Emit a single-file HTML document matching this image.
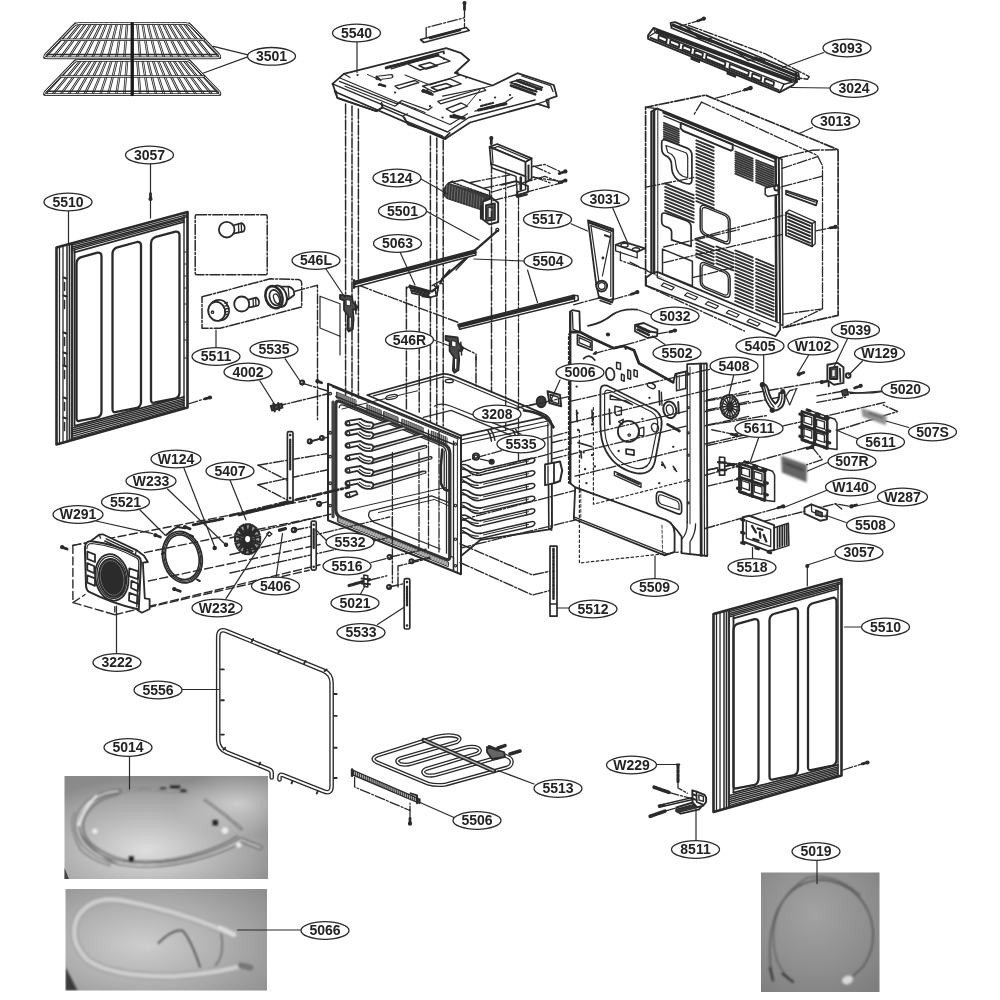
<!DOCTYPE html>
<html lang="en"><head><meta charset="utf-8"><title>Oven cavity exploded parts diagram</title>
<style>
html,body{margin:0;padding:0;background:#fff;}
body{width:1000px;height:1000px;overflow:hidden;font-family:"Liberation Sans",Arial,sans-serif;}
svg{display:block;filter:blur(0.45px);}
</style></head><body>
<svg width="1000" height="1000" viewBox="0 0 1000 1000" stroke-linecap="round" stroke-linejoin="round">
<rect width="1000" height="1000" fill="#fff"/>
<!-- photo insets -->
<defs>
<radialGradient id="ph1" cx="0.40" cy="0.72" r="0.70"><stop offset="0" stop-color="#dedede"/><stop offset="0.35" stop-color="#c2c2c2"/><stop offset="0.75" stop-color="#a4a4a4"/><stop offset="1" stop-color="#8a8a8a"/></radialGradient>
<radialGradient id="ph1b" cx="0.85" cy="0.27" r="0.32"><stop offset="0" stop-color="#cfcfcf" stop-opacity="0.95"/><stop offset="1" stop-color="#cfcfcf" stop-opacity="0"/></radialGradient>
<radialGradient id="ph2" cx="0.38" cy="0.55" r="0.8"><stop offset="0" stop-color="#cdcdcd"/><stop offset="0.45" stop-color="#b2b2b2"/><stop offset="1" stop-color="#8e8e8e"/></radialGradient>
<radialGradient id="ph3" cx="0.45" cy="0.35" r="0.8"><stop offset="0" stop-color="#a2a2a2"/><stop offset="0.6" stop-color="#8e8e8e"/><stop offset="1" stop-color="#7e7e7e"/></radialGradient>
<filter id="b1" x="-20%" y="-20%" width="140%" height="140%"><feGaussianBlur stdDeviation="0.8"/></filter>
<filter id="b2" x="-20%" y="-20%" width="140%" height="140%"><feGaussianBlur stdDeviation="1.3"/></filter>
<clipPath id="c1"><rect x="64.5" y="776" width="203.5" height="103"/></clipPath>
<clipPath id="c2"><rect x="65.5" y="889" width="201.5" height="101.5"/></clipPath>
<clipPath id="c3"><rect x="761" y="872.5" width="118.5" height="119.5"/></clipPath>
</defs>
<rect x="64.5" y="776" width="203.5" height="103" fill="url(#ph1)"/>
<rect x="64.5" y="776" width="203.5" height="103" fill="url(#ph1b)"/>
<g clip-path="url(#c1)" filter="url(#b1)" fill="none">
<path d="M120 791.2Q95 792.5 82.5 808.8Q71.2 825 83.8 843.8Q97.5 858.8 120 863Q160 870 207.5 855Q230 847.5 241.2 840L260 847.5" fill="none" stroke="#5e5e5e" stroke-width="4.6"/>
<path d="M120 791.2Q95 792.5 82.5 808.8Q71.2 825 83.8 843.8Q97.5 858.8 120 863Q160 870 207.5 855Q230 847.5 241.2 840L260 847.5" fill="none" stroke="#d9d9d9" stroke-width="1.8"/>
<path d="M117.5 795Q98.8 797.5 87.5 812.5Q77.5 827.5 90 842.5Q105 856.2 125 860Q162.5 865.5 205 851.2Q225 844.5 237.5 836.2" fill="none" stroke="#7a7a7a" stroke-width="2"/>
<path d="M75 812.5Q67.5 825 80 848.8Q90 860 110 865.5" fill="none" stroke="#8a8a8a" stroke-width="2"/>
<path d="M120 791.2Q140 787.5 160 790L186.2 791.2M205 800L225 815L241.2 828.8" fill="none" stroke="#555" stroke-width="2.6"/>
<path d="M120 791.2Q140 787.5 160 790L186.2 791.2M205 800L225 815L241.2 828.8" fill="none" stroke="#cfcfcf" stroke-width="1"/>
<path d="M96.2 796.2Q82.5 810 78.8 825" fill="none" stroke="#e8e8e8" stroke-width="2.6"/>
<path d="M80 832.5Q95 855 117.5 863.8" fill="none" stroke="#777" stroke-width="1.8"/>
<rect x="170" y="785.5" width="10" height="3" fill="#222"/>
<rect x="180" y="789.5" width="6.2" height="2.5" fill="#222"/>
<rect x="212.5" y="820" width="5.5" height="5.5" fill="#222"/>
<rect x="128.8" y="856.2" width="5" height="5.5" fill="#222"/>
<rect x="160" y="787.5" width="6.2" height="2" fill="#222"/>
<circle cx="225" cy="830.5" r="3.2" fill="#ececec"/>
<circle cx="238.8" cy="845" r="2.6" fill="#ececec"/>
<circle cx="95" cy="831.2" r="2.6" fill="#ececec"/>
</g>
<path d="M64.5 868 L64.5 879 L69 879Z" fill="#444" stroke="none" stroke-width="0"/>
<rect x="65.5" y="889" width="201.5" height="101.5" fill="url(#ph2)"/>
<g clip-path="url(#c2)" filter="url(#b1)" fill="none">
<path d="M220 928.8Q175 910 120 900Q90 896.2 77.5 917.5Q67.5 940 87.5 960Q112.5 977.5 175 976.2Q212.5 973.8 241.2 966.2" fill="none" stroke="#9c9c9c" stroke-width="7.7"/>
<path d="M220 928.8Q175 910 120 900Q90 896.2 77.5 917.5Q67.5 940 87.5 960Q112.5 977.5 175 976.2Q212.5 973.8 241.2 966.2" fill="none" stroke="#c4c4c4" stroke-width="5.4"/>
<path d="M220 928.8Q175 910 120 900Q90 896.2 77.5 917.5Q67.5 940 87.5 960Q112.5 977.5 175 976.2Q212.5 973.8 241.2 966.2" fill="none" stroke="#d0d0d0" stroke-width="2.3"/>
<path d="M157.5 943.8Q172.5 928.8 182.5 930.5Q191.2 940 200 967" fill="none" stroke="#4a4a4a" stroke-width="1.7"/>
<path d="M221.2 933.8Q225 955 215.5 965.5" fill="none" stroke="#6a6a6a" stroke-width="1.5"/>
<path d="M146.2 948.8L157 944.2" fill="none" stroke="#d0d0d0" stroke-width="2"/>
<path d="M220 928L233.8 934.5" fill="none" stroke="#dcdcdc" stroke-width="5.1"/>
<path d="M241.2 965.5L250 967.5" fill="none" stroke="#777" stroke-width="6.4"/>
<path d="M65.5 967L65.5 990.5L77.5 990.5Z" fill="#3a3a3a" stroke="none" stroke-width="0"/>
</g>
<rect x="761" y="872.5" width="118.5" height="119.5" fill="url(#ph3)"/>
<g clip-path="url(#c3)" filter="url(#b1)" fill="none">
<path d="M772.5 980Q765 940 777.5 910Q792.5 880 822.5 880Q855 882.5 868.8 912.5Q880 942.5 862.5 967.5L852.5 976.2" fill="none" stroke="#4e4e4e" stroke-width="1.3"/>
<path d="M792.5 981.2Q771.2 965 773.8 930Q777.5 895 807.5 877.5Q835 872.5 860 895" fill="none" stroke="#5a5a5a" stroke-width="1.2"/>
<path d="M770 968L773 980.5M782.5 973.8L793 982" fill="none" stroke="#2e2e2e" stroke-width="2"/>
<ellipse cx="847.5" cy="980" rx="5.6" ry="4.2" fill="#d8d8d8" transform="rotate(-20 847.5 980)"/>
</g>
<!-- oven racks 3501 -->
<path d="M75.5 23.6L44.5 57.8M80.7 23.6L52.5 57.8M85.8 23.6L60.5 57.8M91 23.6L68.4 57.8M96.1 23.6L76.4 57.8M101.3 23.6L84.4 57.8M106.5 23.6L92.4 57.8M111.6 23.6L100.3 57.8M116.8 23.6L108.3 57.8M121.9 23.6L116.3 57.8M127.1 23.6L124.3 57.8M132.2 23.6L132.2 57.8M137.4 23.6L140.2 57.8M142.6 23.6L148.2 57.8M147.7 23.6L156.2 57.8M152.9 23.6L164.2 57.8M158 23.6L172.1 57.8M163.2 23.6L180.1 57.8M168.4 23.6L188.1 57.8M173.5 23.6L196.1 57.8M178.7 23.6L204 57.8M183.8 23.6L212 57.8M189 23.6L220 57.8" fill="none" stroke="#1e1e1e" stroke-width="2.4"/>
<path d="M75.5 23.6L44.5 57.8M80.7 23.6L52.5 57.8M85.8 23.6L60.5 57.8M91 23.6L68.4 57.8M96.1 23.6L76.4 57.8M101.3 23.6L84.4 57.8M106.5 23.6L92.4 57.8M111.6 23.6L100.3 57.8M116.8 23.6L108.3 57.8M121.9 23.6L116.3 57.8M127.1 23.6L124.3 57.8M132.2 23.6L132.2 57.8M137.4 23.6L140.2 57.8M142.6 23.6L148.2 57.8M147.7 23.6L156.2 57.8M152.9 23.6L164.2 57.8M158 23.6L172.1 57.8M163.2 23.6L180.1 57.8M168.4 23.6L188.1 57.8M173.5 23.6L196.1 57.8M178.7 23.6L204 57.8M183.8 23.6L212 57.8M189 23.6L220 57.8" fill="none" stroke="#fff" stroke-width="0.8"/>
<path d="M78.5 23.6L186 23.6Q189 23.6 191 25.8L219 54.8Q221.5 57.8 217 57.8L47.5 57.8Q43 57.8 45.5 54.8L73.5 25.8Q75.5 23.6 78.5 23.6Z" fill="none" stroke="#2a2a2a" stroke-width="2.8"/>
<path d="M78.5 23.6L186 23.6Q189 23.6 191 25.8L219 54.8Q221.5 57.8 217 57.8L47.5 57.8Q43 57.8 45.5 54.8L73.5 25.8Q75.5 23.6 78.5 23.6Z" fill="none" stroke="#fff" stroke-width="1"/>
<line x1="60.9" y1="39.7" x2="203.6" y2="39.7" stroke="#2a2a2a" stroke-width="2.6"/>
<line x1="60.9" y1="39.7" x2="203.6" y2="39.7" stroke="#fff" stroke-width="0.8"/>
<line x1="47.6" y1="54.4" x2="216.9" y2="54.4" stroke="#2a2a2a" stroke-width="1.5"/>
<line x1="132.2" y1="23.6" x2="132.2" y2="57.8" stroke="#1a1a1a" stroke-width="3.3"/>
<path d="M75.5 60.4L44.5 94.6M80.7 60.4L52.5 94.6M85.8 60.4L60.5 94.6M91 60.4L68.4 94.6M96.1 60.4L76.4 94.6M101.3 60.4L84.4 94.6M106.5 60.4L92.4 94.6M111.6 60.4L100.3 94.6M116.8 60.4L108.3 94.6M121.9 60.4L116.3 94.6M127.1 60.4L124.3 94.6M132.2 60.4L132.2 94.6M137.4 60.4L140.2 94.6M142.6 60.4L148.2 94.6M147.7 60.4L156.2 94.6M152.9 60.4L164.2 94.6M158 60.4L172.1 94.6M163.2 60.4L180.1 94.6M168.4 60.4L188.1 94.6M173.5 60.4L196.1 94.6M178.7 60.4L204 94.6M183.8 60.4L212 94.6M189 60.4L220 94.6" fill="none" stroke="#1e1e1e" stroke-width="2.4"/>
<path d="M75.5 60.4L44.5 94.6M80.7 60.4L52.5 94.6M85.8 60.4L60.5 94.6M91 60.4L68.4 94.6M96.1 60.4L76.4 94.6M101.3 60.4L84.4 94.6M106.5 60.4L92.4 94.6M111.6 60.4L100.3 94.6M116.8 60.4L108.3 94.6M121.9 60.4L116.3 94.6M127.1 60.4L124.3 94.6M132.2 60.4L132.2 94.6M137.4 60.4L140.2 94.6M142.6 60.4L148.2 94.6M147.7 60.4L156.2 94.6M152.9 60.4L164.2 94.6M158 60.4L172.1 94.6M163.2 60.4L180.1 94.6M168.4 60.4L188.1 94.6M173.5 60.4L196.1 94.6M178.7 60.4L204 94.6M183.8 60.4L212 94.6M189 60.4L220 94.6" fill="none" stroke="#fff" stroke-width="0.8"/>
<path d="M78.5 60.4L186 60.4Q189 60.4 191 62.6L219 91.6Q221.5 94.6 217 94.6L47.5 94.6Q43 94.6 45.5 91.6L73.5 62.6Q75.5 60.4 78.5 60.4Z" fill="none" stroke="#2a2a2a" stroke-width="2.8"/>
<path d="M78.5 60.4L186 60.4Q189 60.4 191 62.6L219 91.6Q221.5 94.6 217 94.6L47.5 94.6Q43 94.6 45.5 91.6L73.5 62.6Q75.5 60.4 78.5 60.4Z" fill="none" stroke="#fff" stroke-width="1"/>
<line x1="60.9" y1="76.5" x2="203.6" y2="76.5" stroke="#2a2a2a" stroke-width="2.6"/>
<line x1="60.9" y1="76.5" x2="203.6" y2="76.5" stroke="#fff" stroke-width="0.8"/>
<line x1="47.6" y1="91.2" x2="216.9" y2="91.2" stroke="#2a2a2a" stroke-width="1.5"/>
<line x1="132.2" y1="60.4" x2="132.2" y2="94.6" stroke="#1a1a1a" stroke-width="3.3"/>
<!-- side panels 5510 -->
<path d="M56.5 247.5 L187.5 212 L187.5 407.5 L56.5 444.5Z" fill="#fff" stroke="#2a2a2a" stroke-width="2.6"/>
<line x1="59.5" y1="247.7" x2="59.5" y2="442.7" stroke="#2a2a2a" stroke-width="1.3"/>
<line x1="63" y1="246.7" x2="63" y2="441.7" stroke="#2a2a2a" stroke-width="1.3"/>
<line x1="67" y1="245.7" x2="67" y2="440.5" stroke="#2a2a2a" stroke-width="1.5"/>
<line x1="69.5" y1="245" x2="69.5" y2="439.8" stroke="#2a2a2a" stroke-width="1.7"/>
<line x1="72" y1="244.3" x2="72" y2="439.1" stroke="#2a2a2a" stroke-width="1.9"/>
<line x1="74.5" y1="250.6" x2="74.5" y2="425.4" stroke="#2a2a2a" stroke-width="1.9"/>
<line x1="63.5" y1="277.5" x2="66.5" y2="278.5" stroke="#2a2a2a" stroke-width="2"/>
<line x1="64.5" y1="282.5" x2="64.5" y2="290.5" stroke="#2a2a2a" stroke-width="1.5"/>
<line x1="63.5" y1="295.5" x2="66.5" y2="296.5" stroke="#2a2a2a" stroke-width="2"/>
<line x1="64.5" y1="300.5" x2="64.5" y2="308.5" stroke="#2a2a2a" stroke-width="1.5"/>
<line x1="63.5" y1="332.5" x2="66.5" y2="333.5" stroke="#2a2a2a" stroke-width="2"/>
<line x1="64.5" y1="337.5" x2="64.5" y2="345.5" stroke="#2a2a2a" stroke-width="1.5"/>
<line x1="63.5" y1="352.5" x2="66.5" y2="353.5" stroke="#2a2a2a" stroke-width="2"/>
<line x1="64.5" y1="357.5" x2="64.5" y2="365.5" stroke="#2a2a2a" stroke-width="1.5"/>
<line x1="63.5" y1="365.5" x2="66.5" y2="366.5" stroke="#2a2a2a" stroke-width="2"/>
<line x1="64.5" y1="370.5" x2="64.5" y2="378.5" stroke="#2a2a2a" stroke-width="1.5"/>
<line x1="63.5" y1="397.5" x2="66.5" y2="398.5" stroke="#2a2a2a" stroke-width="2"/>
<line x1="64.5" y1="402.5" x2="64.5" y2="410.5" stroke="#2a2a2a" stroke-width="1.5"/>
<line x1="63.5" y1="417.5" x2="66.5" y2="418.5" stroke="#2a2a2a" stroke-width="2"/>
<line x1="64.5" y1="422.5" x2="64.5" y2="430.5" stroke="#2a2a2a" stroke-width="1.5"/>
<line x1="71.5" y1="245.4" x2="186.5" y2="214.9" stroke="#2a2a2a" stroke-width="1.4"/>
<line x1="71.5" y1="247.2" x2="186.5" y2="216.7" stroke="#2a2a2a" stroke-width="1.4"/>
<line x1="71.5" y1="249" x2="184" y2="218.5" stroke="#2a2a2a" stroke-width="1.4"/>
<line x1="71.5" y1="250.6" x2="184" y2="220.1" stroke="#2a2a2a" stroke-width="1.4"/>
<line x1="74.5" y1="252.4" x2="184" y2="221.9" stroke="#2a2a2a" stroke-width="1.8"/>
<line x1="71.5" y1="438.3" x2="184" y2="406.9" stroke="#2a2a2a" stroke-width="1.4"/>
<line x1="71.5" y1="436.3" x2="184" y2="405.3" stroke="#2a2a2a" stroke-width="1.4"/>
<line x1="71.5" y1="434.3" x2="184" y2="403.7" stroke="#2a2a2a" stroke-width="1.4"/>
<line x1="71.5" y1="432.3" x2="184" y2="402.1" stroke="#2a2a2a" stroke-width="1.4"/>
<line x1="71.5" y1="430.3" x2="184" y2="400.5" stroke="#2a2a2a" stroke-width="1.4"/>
<line x1="71.5" y1="428.3" x2="184" y2="398.9" stroke="#2a2a2a" stroke-width="1.4"/>
<line x1="74.5" y1="425.8" x2="184" y2="396.9" stroke="#2a2a2a" stroke-width="1.8"/>
<line x1="184" y1="214.9" x2="184" y2="407.5" stroke="#2a2a2a" stroke-width="1.4"/>
<line x1="184.3" y1="252" x2="186.4" y2="252" stroke="#2a2a2a" stroke-width="1.2"/>
<line x1="184.3" y1="264" x2="186.4" y2="264" stroke="#2a2a2a" stroke-width="1.2"/>
<line x1="184.3" y1="276" x2="186.4" y2="276" stroke="#2a2a2a" stroke-width="1.2"/>
<line x1="184.3" y1="288" x2="186.4" y2="288" stroke="#2a2a2a" stroke-width="1.2"/>
<line x1="184.3" y1="304" x2="186.4" y2="304" stroke="#2a2a2a" stroke-width="1.2"/>
<line x1="184.3" y1="322" x2="186.4" y2="322" stroke="#2a2a2a" stroke-width="1.2"/>
<line x1="184.3" y1="340" x2="186.4" y2="340" stroke="#2a2a2a" stroke-width="1.2"/>
<line x1="184.3" y1="358" x2="186.4" y2="358" stroke="#2a2a2a" stroke-width="1.2"/>
<path d="M76.5 264.1Q76.5 259.1 80.5 257.4L97.5 252.7Q101.5 252.3 101.5 256.3L101.5 411Q101.5 416 97.5 417.4L80.5 420.7Q76.5 422.1 76.5 418.1Z" fill="none" stroke="#2a2a2a" stroke-width="2.3"/>
<path d="M112.5 254.3Q112.5 249.3 116.5 247.6L137 242Q141 241.6 141 245.6L141 401.4Q141 406.4 137 407.8L116.5 411.9Q112.5 413.3 112.5 409.3Z" fill="none" stroke="#2a2a2a" stroke-width="2.3"/>
<path d="M151 243.9Q151 238.9 155 237.2L175.5 231.6Q179.5 231.2 179.5 235.2L179.5 392Q179.5 397 175.5 398.4L155 402.5Q151 403.9 151 399.9Z" fill="none" stroke="#2a2a2a" stroke-width="2.3"/>
<path d="M713.5 614 L841.5 579 L841.5 775.5 L713.5 812Z" fill="#fff" stroke="#2a2a2a" stroke-width="2.6"/>
<line x1="716.5" y1="614.2" x2="716.5" y2="810.1" stroke="#2a2a2a" stroke-width="1.3"/>
<line x1="720" y1="613.2" x2="720" y2="809.1" stroke="#2a2a2a" stroke-width="1.3"/>
<line x1="724" y1="612.1" x2="724" y2="808" stroke="#2a2a2a" stroke-width="1.5"/>
<line x1="726.5" y1="611.4" x2="726.5" y2="807.3" stroke="#2a2a2a" stroke-width="1.7"/>
<line x1="729" y1="610.8" x2="729" y2="806.6" stroke="#2a2a2a" stroke-width="1.9"/>
<line x1="733.5" y1="616.5" x2="733.5" y2="792.3" stroke="#2a2a2a" stroke-width="1.9"/>
<line x1="730.5" y1="611.4" x2="840.5" y2="582" stroke="#2a2a2a" stroke-width="1.4"/>
<line x1="730.5" y1="613.2" x2="840.5" y2="583.8" stroke="#2a2a2a" stroke-width="1.4"/>
<line x1="730.5" y1="615" x2="838" y2="585.6" stroke="#2a2a2a" stroke-width="1.4"/>
<line x1="730.5" y1="616.6" x2="838" y2="587.2" stroke="#2a2a2a" stroke-width="1.4"/>
<line x1="733.5" y1="618.4" x2="838" y2="589" stroke="#2a2a2a" stroke-width="1.8"/>
<line x1="730.5" y1="805.2" x2="838" y2="774.9" stroke="#2a2a2a" stroke-width="1.4"/>
<line x1="730.5" y1="803.2" x2="838" y2="773.3" stroke="#2a2a2a" stroke-width="1.4"/>
<line x1="730.5" y1="801.2" x2="838" y2="771.7" stroke="#2a2a2a" stroke-width="1.4"/>
<line x1="730.5" y1="799.2" x2="838" y2="770.1" stroke="#2a2a2a" stroke-width="1.4"/>
<line x1="730.5" y1="797.2" x2="838" y2="768.5" stroke="#2a2a2a" stroke-width="1.4"/>
<line x1="730.5" y1="795.2" x2="838" y2="766.9" stroke="#2a2a2a" stroke-width="1.4"/>
<line x1="733.5" y1="792.7" x2="838" y2="764.9" stroke="#2a2a2a" stroke-width="1.8"/>
<line x1="838" y1="582" x2="838" y2="775.5" stroke="#2a2a2a" stroke-width="1.4"/>
<path d="M733.5 630.5Q733.5 625.5 737.5 623.8L754.5 619.1Q758.5 618.7 758.5 622.7L758.5 778.4Q758.5 783.4 754.5 784.9L737.5 788.1Q733.5 789.6 733.5 785.6Z" fill="none" stroke="#2a2a2a" stroke-width="2.3"/>
<path d="M769.5 620.7Q769.5 615.7 773.5 614L794 608.3Q798 607.9 798 611.9L798 768.7Q798 773.7 794 775.1L773.5 779.3Q769.5 780.7 769.5 776.7Z" fill="none" stroke="#2a2a2a" stroke-width="2.3"/>
<path d="M808 610.2Q808 605.2 812 603.5L832.5 597.8Q836.5 597.4 836.5 601.4L836.5 759.2Q836.5 764.2 832.5 765.7L812 769.8Q808 771.2 808 767.2Z" fill="none" stroke="#2a2a2a" stroke-width="2.3"/>
<!-- rear cover 3013 with phantom box -->
<path d="M645.6 285.5 L645.6 107.3 L705.4 95.1 L838.1 149.7 L838.1 315.4 L783.4 327.6" fill="none" stroke="#2a2a2a" stroke-width="1.7" stroke-dasharray="10 2 2 2"/>
<path d="M645.6 107.3 L657.3 108.6" fill="none" stroke="#2a2a2a" stroke-width="1.4" stroke-dasharray="10 2 2 2"/>
<path d="M778.2 158 L812.1 150.2 L838.1 149.7" fill="none" stroke="#2a2a2a" stroke-width="1.4" stroke-dasharray="10 2 2 2"/>
<path d="M701.5 102.1 L693.7 115.1" fill="none" stroke="#2a2a2a" stroke-width="1.3" stroke-dasharray="10 2 2 2"/>
<path d="M701.5 102.1 L817.3 155.4 L822.5 165.8 L822.5 308.9 L783.4 327.6" fill="none" stroke="#2a2a2a" stroke-width="1.3" stroke-dasharray="10 2 2 2"/>
<path d="M782.1 168.4 L817.3 156.7" fill="none" stroke="#2a2a2a" stroke-width="1.3" stroke-dasharray="10 2 2 2"/>
<path d="M782.1 186.6 L822.5 176.2" fill="none" stroke="#2a2a2a" stroke-width="1.3" stroke-dasharray="10 2 2 2"/>
<path d="M645.6 285.5 L744.4 331" fill="none" stroke="#2a2a2a" stroke-width="1.4" stroke-dasharray="10 2 2 2"/>
<path d="M783.4 314.1 L822.5 308.9" fill="none" stroke="#2a2a2a" stroke-width="1.3" stroke-dasharray="10 2 2 2"/>
<path d="M630 262.1 L741.8 319.3" fill="none" stroke="#2a2a2a" stroke-width="1.3" stroke-dasharray="10 2 2 2"/>
<path d="M657.3 108.6 L778.8 158 L780.1 324 L657.3 271.9Z" fill="#fff" stroke="#2a2a2a" stroke-width="2"/>
<path d="M657.3 108.6 L651.3 111.7 L651.3 273.8 L657.3 271.9" fill="#fff" stroke="#2a2a2a" stroke-width="2"/>
<path d="M653.9 110.7 L653.9 273" fill="none" stroke="#2a2a2a" stroke-width="2.8"/>
<path d="M775.6 157.5 L776.4 321.9" fill="none" stroke="#2a2a2a" stroke-width="2.6"/>
<path d="M781.9 159.3 L782.9 325.8 L780.1 324" fill="none" stroke="#2a2a2a" stroke-width="1.4"/>
<path d="M778.8 158 L781.9 159.3" fill="none" stroke="#2a2a2a" stroke-width="1.4"/>
<path d="M663.8 112.5 L775.6 158.5" fill="none" stroke="#2a2a2a" stroke-width="2.8"/>
<path d="M663.8 115.9 L774.3 161.9" fill="none" stroke="#2a2a2a" stroke-width="1.3"/>
<path d="M651.3 273.8 L646.1 277.7 L646.1 285.5 L775.6 336.2 L780.1 329.7 L780.1 324" fill="#fff" stroke="#2a2a2a" stroke-width="1.7"/>
<path d="M657.3 271.9 L657.3 277.7 L775.6 327.1" fill="none" stroke="#2a2a2a" stroke-width="1.3"/>
<path d="M663.8 283 L674.2 287.4 L671.6 290 L661.2 285.6Z" fill="none" stroke="#2a2a2a" stroke-width="1.2"/>
<path d="M687.2 292.8 L697.6 297.2 L695 299.8 L684.6 295.4Z" fill="none" stroke="#2a2a2a" stroke-width="1.2"/>
<path d="M708 301.6 L718.4 306 L715.8 308.6 L705.4 304.2Z" fill="none" stroke="#2a2a2a" stroke-width="1.2"/>
<path d="M728.8 310.3 L739.2 314.7 L736.6 317.3 L726.2 312.9Z" fill="none" stroke="#2a2a2a" stroke-width="1.2"/>
<path d="M749.6 319 L760 323.5 L757.4 326.1 L747 321.6Z" fill="none" stroke="#2a2a2a" stroke-width="1.2"/>
<path d="M680.7 122.9 L732.7 144.5 L732.7 149.7 L730.9 150.7 L683.3 131 L680.7 128.4Z" fill="none" stroke="#2a2a2a" stroke-width="1.9"/>
<path d="M663.8 122.9L678.9 129.1M663.8 125.1L678.9 131.3M663.8 127.3L678.9 133.5M663.8 129.5L678.9 135.7M663.8 131.8L678.9 137.9M663.8 134L678.9 140.1M663.8 136.2L678.9 142.3M663.8 138.4L678.9 144.6" fill="none" stroke="#333" stroke-width="1.8"/>
<path d="M735.3 151.5L752.8 158.6M735.3 153.7L752.8 160.9M735.3 155.9L752.8 163.1M735.3 158.2L752.8 165.3M735.3 160.4L752.8 167.5M735.3 162.6L752.8 169.7M735.3 164.8L752.8 171.9M735.3 167L752.8 174.1M735.3 169.2L752.8 176.3M735.3 171.4L752.8 178.5M735.3 173.6L752.8 180.8" fill="none" stroke="#333" stroke-width="1.8"/>
<path d="M756.1 160.1L773.6 167.2M756.1 162.3L773.6 169.4M756.1 164.5L773.6 171.7M756.1 166.7L773.6 173.9M756.1 168.9L773.6 176.1M756.1 171.2L773.6 178.3M756.1 173.4L773.6 180.5M756.1 175.6L773.6 182.7M756.1 177.8L773.6 184.9M756.1 180L773.6 187.1M756.1 182.2L773.6 189.3" fill="none" stroke="#333" stroke-width="1.8"/>
<path d="M696.3 140.3L713.7 147.5M696.3 143.7L713.7 150.8M696.3 147.1L713.7 154.2M696.3 150.5L713.7 157.6M696.3 153.9L713.7 161M696.3 157.2L713.7 164.4M696.3 160.6L713.7 167.8M696.3 164L713.7 171.1M696.3 167.4L713.7 174.5M696.3 170.8L713.7 177.9M696.3 174.1L713.7 181.3M696.3 177.5L713.7 184.7M696.3 180.9L713.7 188M696.3 184.3L713.7 191.4M696.3 187.7L713.7 194.8M696.3 191.1L713.7 198.2M696.3 194.4L713.7 201.6M696.3 197.8L713.7 204.9M696.3 201.2L713.7 208.3" fill="none" stroke="#333" stroke-width="1.9"/>
<path d="M665.1 183.5L693.7 195.2M665.1 186.9L693.7 198.6M665.1 190.3L693.7 202M665.1 193.7L693.7 205.4M665.1 197L693.7 208.7M665.1 200.4L693.7 212.1M665.1 203.8L693.7 215.5M665.1 207.2L693.7 218.9M665.1 210.6L693.7 222.3" fill="none" stroke="#333" stroke-width="1.9"/>
<path d="M696.3 239.9L713.7 247.1M696.3 243.3L713.7 250.5M696.3 246.7L713.7 253.8M696.3 250.1L713.7 257.2M696.3 253.5L713.7 260.6M696.3 256.9L713.7 264" fill="none" stroke="#333" stroke-width="1.9"/>
<path d="M716.3 246.4L733.3 253.4M716.3 249.8L733.3 256.7M716.3 253.2L733.3 260.1M716.3 256.6L733.3 263.5M716.3 260L733.3 266.9M716.3 263.4L733.3 270.3" fill="none" stroke="#333" stroke-width="1.9"/>
<path d="M735.3 250.4L752.8 257.5M735.3 253.7L752.8 260.9M735.3 257.1L752.8 264.2M735.3 260.5L752.8 267.6M735.3 263.9L752.8 271M735.3 267.3L752.8 274.4M735.3 270.6L752.8 277.8M735.3 274L752.8 281.1M735.3 277.4L752.8 284.5M735.3 280.8L752.8 287.9M735.3 284.2L752.8 291.3M735.3 287.5L752.8 294.7M735.3 290.9L752.8 298.1M735.3 294.3L752.8 301.4M735.3 297.7L752.8 304.8M735.3 301.1L752.8 308.2" fill="none" stroke="#333" stroke-width="1.9"/>
<path d="M756.1 258.9L773.6 266.1M756.1 262.3L773.6 269.4M756.1 265.7L773.6 272.8M756.1 269.1L773.6 276.2M756.1 272.5L773.6 279.6M756.1 275.8L773.6 283M756.1 279.2L773.6 286.3M756.1 282.6L773.6 289.7M756.1 286L773.6 293.1M756.1 289.4L773.6 296.5M756.1 292.7L773.6 299.9M756.1 296.1L773.6 303.3M756.1 299.5L773.6 306.6M756.1 302.9L773.6 310M756.1 306.3L773.6 313.4M756.1 309.6L773.6 316.8" fill="none" stroke="#333" stroke-width="1.9"/>
<path d="M661.7 142.4Q661.7 138.5 666.4 140.3L687.2 148.1Q691.9 150.2 691.9 155.4L691.9 180.1Q691.9 185.3 685.9 183.5Q671.6 180.1 671.6 165.8Q671.6 158 665.1 155.4Q661.7 153.3 661.7 148.1Z" fill="#fff" stroke="#2a2a2a" stroke-width="1.7"/>
<path d="M665.9 145.5L685.9 152.8Q687.7 154.1 687.7 158L687.7 177.5Q676.8 176.2 675.8 164.5Q675.8 155.4 667.7 152.3Z" fill="none" stroke="#2a2a2a" stroke-width="1.2"/>
<path d="M700.2 209.3Q700.2 203.5 705.9 205.9L724.4 213.4Q730.1 215.8 730.1 221.5L730.1 240Q730.1 245.7 724.4 243.3L705.9 235.8Q700.2 233.4 700.2 227.7Z" fill="none" stroke="#2a2a2a" stroke-width="1.5"/>
<path d="M702 210.9Q702 206.1 706.9 208.1L723.5 214.9Q728.3 216.8 728.3 221.7L728.3 238.3Q728.3 243.1 723.5 241.1L706.9 234.3Q702 232.4 702 227.6Z" fill="none" stroke="#2a2a2a" stroke-width="1.3"/>
<path d="M700.2 266.5Q700.2 260.8 705.9 263.1L724.4 270.6Q730.1 273 730.1 278.7L730.1 293.3Q730.1 299 724.4 296.7L705.9 289.1Q700.2 286.8 700.2 281Z" fill="none" stroke="#2a2a2a" stroke-width="1.5"/>
<path d="M702 268.1Q702 263.3 706.9 265.3L723.5 272.1Q728.3 274.1 728.3 278.9L728.3 291.6Q728.3 296.4 723.5 294.5L706.9 287.7Q702 285.7 702 280.9Z" fill="none" stroke="#2a2a2a" stroke-width="1.3"/>
<path d="M661.7 215.2Q661.7 212.1 666.4 213.4L685.9 220.4Q691.1 222.5 691.1 226.9L691.1 246.4L671.6 239.9L671.6 232.1Q671.6 228.2 666.4 226.9Q661.7 225.6 661.7 221.7Z" fill="#fff" stroke="#2a2a2a" stroke-width="1.7"/>
<path d="M662.5 249.1 L692.4 261.3 L692.4 286 L662.5 273.8Z" fill="#fff" stroke="#2a2a2a" stroke-width="1.5"/>
<path d="M765.2 187.9 L778.2 185.3 L778.2 194.4 L767.8 196.5 L765.2 194.4Z" fill="#fff" stroke="#2a2a2a" stroke-width="1.5"/>
<circle cx="776.9" cy="187.9" r="2.6" fill="none" stroke="#2a2a2a" stroke-width="1.9"/>
<path d="M786 190.5 L817.3 200.9 L816 205.4 L786 194.4Z" fill="#fff" stroke="#2a2a2a" stroke-width="1.7"/>
<path d="M787.3 192.4 L815.2 202.2" fill="none" stroke="#2a2a2a" stroke-width="1.3"/>
<path d="M786 212.6 L812.1 223.6 L812.1 246.4 L786 235.5Z" fill="#fff" stroke="#2a2a2a" stroke-width="1.8"/>
<path d="M786 212.6 L789.2 210 L815.2 221.7 L812.1 223.6" fill="none" stroke="#2a2a2a" stroke-width="1.3"/>
<path d="M815.2 221.7 L815.2 243.8 L812.1 246.4" fill="none" stroke="#2a2a2a" stroke-width="1.3"/>
<path d="M788.1 216.5 L810 225.9" fill="none" stroke="#2a2a2a" stroke-width="2"/>
<path d="M788.1 219.9 L810 229.3" fill="none" stroke="#2a2a2a" stroke-width="2"/>
<path d="M788.1 223.3 L810 232.7" fill="none" stroke="#2a2a2a" stroke-width="2"/>
<path d="M788.1 226.7 L810 236" fill="none" stroke="#2a2a2a" stroke-width="2"/>
<path d="M788.1 230.1 L810 239.4" fill="none" stroke="#2a2a2a" stroke-width="2"/>
<path d="M788.1 233.4 L810 242.8" fill="none" stroke="#2a2a2a" stroke-width="2"/>
<path d="M816 230.8 L835.5 226.9" fill="none" stroke="#2a2a2a" stroke-width="1.3" stroke-dasharray="10 2 2 2"/>
<circle cx="835.5" cy="226.9" r="2.1" fill="#2a2a2a"/><line x1="835.5" y1="226.9" x2="830" y2="227.9" stroke="#2a2a2a" stroke-width="2.8" stroke-dasharray="1.4 0.6"/>
<path d="M715.8 98.2 L748.3 89.1" fill="none" stroke="#2a2a2a" stroke-width="1.3" stroke-dasharray="10 2 2 2"/>
<circle cx="750.2" cy="88.3" r="2.1" fill="#2a2a2a"/><line x1="750.2" y1="88.3" x2="744.8" y2="89.7" stroke="#2a2a2a" stroke-width="2.8" stroke-dasharray="1.4 0.6"/>
<path d="M646.1 187.2 L693.7 177.5" fill="none" stroke="#2a2a2a" stroke-width="1.3" stroke-dasharray="10 2 2 2"/>
<path d="M695 238.6 L784 215.2" fill="none" stroke="#2a2a2a" stroke-width="1.3" stroke-dasharray="10 2 2 2"/>
<path d="M663.8 247 L739.2 229.5" fill="none" stroke="#2a2a2a" stroke-width="1.3" stroke-dasharray="10 2 2 2"/>
<path d="M663.8 262.6 L784 234" fill="none" stroke="#2a2a2a" stroke-width="1.3" stroke-dasharray="10 2 2 2"/>
<path d="M692.4 277.7 L734 267.3" fill="none" stroke="#2a2a2a" stroke-width="1.3" stroke-dasharray="10 2 2 2"/>
<!-- oven cavity 3208 -->
<path d="M367.2 395L440 374.6Q445.6 372.9 452.6 375.7L543.6 413.8Q550.6 416.8 551.5 424.4L552 526.6Q552 528.9 547.8 529.7L480.6 539.8L461 556L461 435.6Z" fill="#fff" stroke="#2a2a2a" stroke-width="1.8"/>
<path d="M461 435.6 L546.4 416.8" fill="none" stroke="#2a2a2a" stroke-width="1.7"/>
<path d="M461 439.8 L547.8 421" fill="none" stroke="#2a2a2a" stroke-width="1.2"/>
<path d="M461 444 L549.2 425" fill="none" stroke="#2a2a2a" stroke-width="1.2"/>
<path d="M373.4 395.8L441.4 377.4Q445.6 376.2 451.2 378.5L524 409" fill="none" stroke="#2a2a2a" stroke-width="1.2"/>
<ellipse cx="391.6" cy="397" rx="6" ry="2.2" fill="none" stroke="#2a2a2a" stroke-width="1.4" transform="rotate(-12 391.6 397)"/>
<ellipse cx="449.3" cy="381" rx="4" ry="1.8" fill="none" stroke="#2a2a2a" stroke-width="1.4"/>
<path d="M434.4 406.2Q440 402 451.2 406.2L521.2 434.2" fill="none" stroke="#2a2a2a" stroke-width="1.2"/>
<path d="M423.2 417.4L451.2 410.4L518.4 438.4" fill="none" stroke="#2a2a2a" stroke-width="1.2"/>
<path d="M487.6 430Q490.4 434.2 491.5 441.2M490.4 429.2Q493.8 433.4 494.9 440.4" fill="none" stroke="#2a2a2a" stroke-width="1.4"/>
<path d="M512.8 430Q515.6 434.2 516.7 441.2M515.6 429.2Q519 433.4 520.1 440.4" fill="none" stroke="#2a2a2a" stroke-width="1.4"/>
<path d="M547.8 423 L548.7 527.5" fill="none" stroke="#2a2a2a" stroke-width="1.3"/>
<path d="M524 410.4Q546.4 413.2 553.4 427.2" fill="none" stroke="#2a2a2a" stroke-width="2.8"/>
<path d="M480.5 470L530 458.5Q534.2 457.4 534.8 459.5Q535.1 461.9 531.5 463.1L480.5 475" fill="#fff" stroke="#2a2a2a" stroke-width="1.5"/>
<path d="M526.2 459.5 L526.7 464.2" fill="none" stroke="#2a2a2a" stroke-width="1.2"/>
<path d="M483.5 471.5 L528.5 461" fill="none" stroke="#2a2a2a" stroke-width="1"/>
<path d="M458.7 466Q464 463 468.5 466Q474.5 470.5 480.5 470M458.7 470.5Q464 467.5 468.5 471.2Q474.5 476.5 480.5 475" fill="none" stroke="#2a2a2a" stroke-width="1.7"/>
<path d="M462.5 467Q470 472.7 478.2 472.7" fill="none" stroke="#2a2a2a" stroke-width="1.2"/>
<path d="M480.5 482.7L530 471.2Q534.2 470.1 534.8 472.2Q535.1 474.6 531.5 475.8L480.5 487.7" fill="#fff" stroke="#2a2a2a" stroke-width="1.5"/>
<path d="M526.2 472.2 L526.7 476.9" fill="none" stroke="#2a2a2a" stroke-width="1.2"/>
<path d="M483.5 484.2 L528.5 473.7" fill="none" stroke="#2a2a2a" stroke-width="1"/>
<path d="M458.7 478.7Q464 475.7 468.5 478.7Q474.5 483.2 480.5 482.7M458.7 483.2Q464 480.2 468.5 483.9Q474.5 489.2 480.5 487.7" fill="none" stroke="#2a2a2a" stroke-width="1.7"/>
<path d="M462.5 479.7Q470 485.4 478.2 485.4" fill="none" stroke="#2a2a2a" stroke-width="1.2"/>
<path d="M480.5 495.4L530 483.8Q534.2 482.8 534.8 484.9Q535.1 487.3 531.5 488.5L480.5 500.3" fill="#fff" stroke="#2a2a2a" stroke-width="1.5"/>
<path d="M526.2 484.9 L526.7 489.5" fill="none" stroke="#2a2a2a" stroke-width="1.2"/>
<path d="M483.5 496.9 L528.5 486.4" fill="none" stroke="#2a2a2a" stroke-width="1"/>
<path d="M458.7 491.3Q464 488.3 468.5 491.3Q474.5 495.8 480.5 495.4M458.7 495.8Q464 492.8 468.5 496.6Q474.5 501.8 480.5 500.3" fill="none" stroke="#2a2a2a" stroke-width="1.7"/>
<path d="M462.5 492.4Q470 498.1 478.2 498.1" fill="none" stroke="#2a2a2a" stroke-width="1.2"/>
<path d="M480.5 508.1L530 496.5Q534.2 495.5 534.8 497.6Q535.1 500 531.5 501.2L480.5 513" fill="#fff" stroke="#2a2a2a" stroke-width="1.5"/>
<path d="M526.2 497.6 L526.7 502.2" fill="none" stroke="#2a2a2a" stroke-width="1.2"/>
<path d="M483.5 509.6 L528.5 499.1" fill="none" stroke="#2a2a2a" stroke-width="1"/>
<path d="M458.7 504Q464 501 468.5 504Q474.5 508.5 480.5 508.1M458.7 508.5Q464 505.5 468.5 509.3Q474.5 514.5 480.5 513" fill="none" stroke="#2a2a2a" stroke-width="1.7"/>
<path d="M462.5 505.1Q470 510.8 478.2 510.8" fill="none" stroke="#2a2a2a" stroke-width="1.2"/>
<path d="M480.5 520.7L530 509.2Q534.2 508.1 534.8 510.2Q535.1 512.6 531.5 513.8L480.5 525.7" fill="#fff" stroke="#2a2a2a" stroke-width="1.5"/>
<path d="M526.2 510.2 L526.7 514.9" fill="none" stroke="#2a2a2a" stroke-width="1.2"/>
<path d="M483.5 522.2 L528.5 511.7" fill="none" stroke="#2a2a2a" stroke-width="1"/>
<path d="M458.7 516.7Q464 513.7 468.5 516.7Q474.5 521.2 480.5 520.7M458.7 521.2Q464 518.2 468.5 521.9Q474.5 527.2 480.5 525.7" fill="none" stroke="#2a2a2a" stroke-width="1.7"/>
<path d="M462.5 517.7Q470 523.4 478.2 523.4" fill="none" stroke="#2a2a2a" stroke-width="1.2"/>
<path d="M480.5 533.4L530 521.9Q534.2 520.8 534.8 522.9Q535.1 525.3 531.5 526.5L480.5 538.4" fill="#fff" stroke="#2a2a2a" stroke-width="1.5"/>
<path d="M526.2 522.9 L526.7 527.6" fill="none" stroke="#2a2a2a" stroke-width="1.2"/>
<path d="M483.5 534.9 L528.5 524.4" fill="none" stroke="#2a2a2a" stroke-width="1"/>
<path d="M458.7 529.4Q464 526.4 468.5 529.4Q474.5 533.9 480.5 533.4M458.7 533.9Q464 530.9 468.5 534.6Q474.5 539.9 480.5 538.4" fill="none" stroke="#2a2a2a" stroke-width="1.7"/>
<path d="M462.5 530.4Q470 536.1 478.2 536.1" fill="none" stroke="#2a2a2a" stroke-width="1.2"/>
<circle cx="476" cy="456.7" r="3.2" fill="none" stroke="#2a2a2a" stroke-width="1.8"/>
<circle cx="476" cy="456.7" r="1.6" fill="none" stroke="#2a2a2a" stroke-width="1.3"/>
<circle cx="491.7" cy="461.8" r="2.4" fill="#2a2a2a" stroke="#2a2a2a" stroke-width="1.3"/>
<path d="M480.5 459.2 L489.5 461.2" fill="none" stroke="#2a2a2a" stroke-width="1.2"/>
<path d="M545 464.5 L554 462.7 L554 483.2 L545 485.2Z" fill="#fff" stroke="#2a2a2a" stroke-width="1.8"/>
<path d="M554 462.7 L560 461.5 L562.2 470.5 L560 481 L554 483.2" fill="none" stroke="#2a2a2a" stroke-width="2"/>
<path d="M548 466 L548 483.2" fill="none" stroke="#2a2a2a" stroke-width="1.3"/>
<path d="M548.7 485.5 L548.7 529 L551.7 530.2 L551.7 484" fill="none" stroke="#2a2a2a" stroke-width="1.4"/>
<path d="M328 383.8L461 438.4L461 574.2L328 520.2ZM335.8 404.8Q335.8 399.2 342 402L442.8 443.5Q449.8 446.3 449.8 453.8L449.8 556Q449.8 561.6 444.2 558.8L342 518.2Q335.8 515.7 335.8 509.8Z" fill="#fff" stroke="#2a2a2a" stroke-width="2" fill-rule="evenodd"/>
<path d="M335.8 404.8Q335.8 399.2 342 402L442.8 443.5Q449.8 446.3 449.8 453.8L449.8 556Q449.8 561.6 444.2 558.8L342 518.2Q335.8 515.7 335.8 509.8Z" fill="none" stroke="#333" stroke-width="3.3"/>
<path d="M339.2 407.6Q339.2 403.7 344.2 405.4L441.4 445.7Q446.5 447.9 446.5 454.7L446.5 553.2" fill="none" stroke="#2a2a2a" stroke-width="1.3"/>
<path d="M333 402L333 516.8" fill="none" stroke="#444" stroke-width="3.1"/>
<path d="M442.3 449.6Q440 466.4 440.9 483.2Q444.2 491.6 448.4 490.2" fill="none" stroke="#2a2a2a" stroke-width="2.6"/>
<path d="M444.2 451L444.2 486" fill="none" stroke="#2a2a2a" stroke-width="1.3"/>
<path d="M337 392.2 L356 400.1 L356 406.2 L337 398.4Z" fill="#555" stroke="#2a2a2a" stroke-width="1"/>
<path d="M338.1 392.7L338.1 398.9M340 393.5L340 399.7M342 394.3L342 400.5M344 395.1L344 401.3M345.9 395.9L345.9 402.1M347.9 396.7L347.9 402.9M349.8 397.5L349.8 403.7M351.8 398.3L351.8 404.5M353.8 399.2L353.8 405.3M355.7 400L355.7 406.1" fill="none" stroke="#ddd" stroke-width="0.6"/>
<path d="M367.2 404.7 L381.2 410.4 L381.2 416.6 L367.2 410.8Z" fill="#555" stroke="#2a2a2a" stroke-width="1"/>
<path d="M368.3 405.1L368.3 411.3M370.3 405.9L370.3 412.1M372.2 406.7L372.2 412.9M374.2 407.6L374.2 413.7M376.2 408.4L376.2 414.5M378.1 409.2L378.1 415.3M380.1 410L380.1 416.1" fill="none" stroke="#ddd" stroke-width="0.6"/>
<path d="M384 411.6 L398 417.3 L398 423.5 L384 417.7Z" fill="#555" stroke="#2a2a2a" stroke-width="1"/>
<path d="M385.1 412L385.1 418.2M387.1 412.8L387.1 419M389.1 413.7L389.1 419.8M391 414.5L391 420.6M393 415.3L393 421.4M394.9 416.1L394.9 422.2M396.9 416.9L396.9 423" fill="none" stroke="#ddd" stroke-width="0.6"/>
<path d="M402.2 419.1 L423.2 427.7 L423.2 433.9 L402.2 425.2Z" fill="#555" stroke="#2a2a2a" stroke-width="1"/>
<path d="M403.3 419.5L403.3 425.7M405.3 420.3L405.3 426.5M407.3 421.1L407.3 427.3M409.2 421.9L409.2 428.1M411.2 422.7L411.2 428.9M413.1 423.6L413.1 429.7M415.1 424.4L415.1 430.5M417.1 425.2L417.1 431.3M419 426L419 432.1M421 426.8L421 432.9M422.9 427.6L422.9 433.7" fill="none" stroke="#ddd" stroke-width="0.6"/>
<path d="M431.6 431.1 L447 437.5 L447 443.6 L431.6 437.3Z" fill="#555" stroke="#2a2a2a" stroke-width="1"/>
<path d="M432.7 431.6L432.7 437.8M434.7 432.4L434.7 438.6M436.7 433.2L436.7 439.4M438.6 434L438.6 440.2M440.6 434.8L440.6 441M442.5 435.6L442.5 441.8M444.5 436.4L444.5 442.6M446.5 437.2L446.5 443.4" fill="none" stroke="#ddd" stroke-width="0.6"/>
<path d="M332.2 386.6 L458.2 439" fill="none" stroke="#2a2a2a" stroke-width="1.3"/>
<path d="M335.8 396.4 L452.6 444" fill="none" stroke="#2a2a2a" stroke-width="1.5"/>
<path d="M337.8 517.4 L448.4 562.2 L448.4 566.7 L337.8 521.9Z" fill="#777" stroke="#2a2a2a" stroke-width="1"/>
<path d="M339.2 517.9L340.3 522.4M340.9 518.6L342 523.1M342.6 519.3L343.7 523.8M344.2 520L345.4 524.5M345.9 520.7L347 525.1M347.6 521.3L348.7 525.8M349.3 522L350.4 526.5M351 522.7L352.1 527.2M352.6 523.4L353.8 527.9M354.3 524.1L355.4 528.6M356 524.8L357.1 529.2M357.7 525.4L358.8 529.9M359.4 526.1L360.5 530.6M361 526.8L362.2 531.3M362.7 527.5L363.8 532M364.4 528.2L365.5 532.6M366.1 528.8L367.2 533.3M367.8 529.5L368.9 534M369.4 530.2L370.6 534.7M371.1 530.9L372.2 535.4M372.8 531.6L373.9 536M374.5 532.2L375.6 536.7M376.2 532.9L377.3 537.4M377.8 533.6L379 538.1M379.5 534.3L380.6 538.8M381.2 535L382.3 539.4M382.9 535.6L384 540.1M384.6 536.3L385.7 540.8M386.3 537L387.4 541.5M387.9 537.7L389.1 542.2M389.6 538.4L390.7 542.8M391.3 539L392.4 543.5M393 539.7L394.1 544.2M394.7 540.4L395.8 544.9M396.3 541.1L397.5 545.6M398 541.8L399.1 546.2M399.7 542.4L400.8 546.9M401.4 543.1L402.5 547.6M403.1 543.8L404.2 548.3M404.7 544.5L405.9 549M406.4 545.2L407.5 549.6M408.1 545.8L409.2 550.3M409.8 546.5L410.9 551M411.5 547.2L412.6 551.7M413.1 547.9L414.3 552.4M414.8 548.6L415.9 553M416.5 549.2L417.6 553.7M418.2 549.9L419.3 554.4M419.9 550.6L421 555.1M421.5 551.3L422.7 555.8M423.2 552L424.3 556.5M424.9 552.7L426 557.1M426.6 553.3L427.7 557.8M428.3 554L429.4 558.5M429.9 554.7L431.1 559.2M431.6 555.4L432.7 559.9M433.3 556.1L434.4 560.5M435 556.7L436.1 561.2M436.7 557.4L437.8 561.9M438.3 558.1L439.5 562.6M440 558.8L441.1 563.3M441.7 559.5L442.8 563.9M443.4 560.1L444.5 564.6M445.1 560.8L446.2 565.3M446.7 561.5L447.9 566" fill="none" stroke="#eee" stroke-width="0.6"/>
<path d="M453.5 441.2 L453.5 571.4" fill="none" stroke="#2a2a2a" stroke-width="1.3"/>
<path d="M457.4 439.8 L457.4 572.8" fill="none" stroke="#2a2a2a" stroke-width="1"/>
<circle cx="455.4" cy="444" r="1.2" fill="none" stroke="#2a2a2a" stroke-width="1.2"/>
<circle cx="455.4" cy="505.6" r="1.2" fill="none" stroke="#2a2a2a" stroke-width="1.2"/>
<circle cx="455.4" cy="539.2" r="1.2" fill="none" stroke="#2a2a2a" stroke-width="1.2"/>
<circle cx="455.4" cy="565.8" r="1.2" fill="none" stroke="#2a2a2a" stroke-width="1.2"/>
<circle cx="330.2" cy="393.6" r="1.3" fill="none" stroke="#2a2a2a" stroke-width="1.3"/>
<circle cx="330.2" cy="432.8" r="1.3" fill="none" stroke="#2a2a2a" stroke-width="1.3"/>
<circle cx="330.2" cy="456.6" r="1.3" fill="none" stroke="#2a2a2a" stroke-width="1.3"/>
<circle cx="330.2" cy="483.2" r="1.3" fill="none" stroke="#2a2a2a" stroke-width="1.3"/>
<circle cx="330.2" cy="505.6" r="1.3" fill="none" stroke="#2a2a2a" stroke-width="1.3"/>
<path d="M449.8 556 L453.5 557.4 L453.5 570" fill="none" stroke="#2a2a2a" stroke-width="1.3"/>
<clipPath id="ovopen"><path d="M335.8 404.8Q335.8 399.2 342 402L442.8 443.5Q449.8 446.3 449.8 453.8L449.8 556Q449.8 561.6 444.2 558.8L342 518.2Q335.8 515.7 335.8 509.8Z"/></clipPath>
<g clip-path="url(#ovopen)">
<path d="M371.7 425.1L422 411.5Q426.2 410.7 425 413.1L371.7 428.8Z" fill="#5a5a5a" stroke="#2a2a2a" stroke-width="1.4"/>
<path d="M372.8 426.9L423.8 412.5" fill="none" stroke="#ddd" stroke-width="1.2"/>
<path d="M349.2 420.6Q344.7 421 345.5 424Q346.7 426.6 350.7 425.1L357.5 423.6Q363.5 430 371 428.7Q375.5 424.8 371.7 422.5Q365 422.5 360.5 418.8Z" fill="#fff" stroke="#2a2a2a" stroke-width="1.8"/>
<path d="M359.3 422.1Q365 427 370.2 426" fill="none" stroke="#2a2a2a" stroke-width="1.2"/>
<circle cx="348.2" cy="423.3" r="1.6" fill="none" stroke="#2a2a2a" stroke-width="1.3"/>
<path d="M371.7 435L422 421.4Q426.2 420.6 425 423L371.7 438.7Z" fill="#5a5a5a" stroke="#2a2a2a" stroke-width="1.4"/>
<path d="M372.8 436.8L423.8 422.4" fill="none" stroke="#ddd" stroke-width="1.2"/>
<path d="M349.2 430.5Q344.7 430.9 345.5 433.9Q346.7 436.5 350.7 435L357.5 433.5Q363.5 439.9 371 438.6Q375.5 434.7 371.7 432.4Q365 432.4 360.5 428.7Z" fill="#fff" stroke="#2a2a2a" stroke-width="1.8"/>
<path d="M359.3 432Q365 436.9 370.2 435.9" fill="none" stroke="#2a2a2a" stroke-width="1.2"/>
<circle cx="348.2" cy="433.2" r="1.6" fill="none" stroke="#2a2a2a" stroke-width="1.3"/>
<path d="M371.7 447.3L422 433.7Q426.2 432.9 425 435.3L371.7 451Z" fill="#5a5a5a" stroke="#2a2a2a" stroke-width="1.4"/>
<path d="M372.8 449.1L423.8 434.7" fill="none" stroke="#ddd" stroke-width="1.2"/>
<path d="M349.2 442.8Q344.7 443.2 345.5 446.2Q346.7 448.8 350.7 447.3L357.5 445.8Q363.5 452.2 371 450.9Q375.5 447 371.7 444.7Q365 444.7 360.5 441Z" fill="#fff" stroke="#2a2a2a" stroke-width="1.8"/>
<path d="M359.3 444.3Q365 449.2 370.2 448.2" fill="none" stroke="#2a2a2a" stroke-width="1.2"/>
<circle cx="348.2" cy="445.5" r="1.6" fill="none" stroke="#2a2a2a" stroke-width="1.3"/>
<path d="M371.7 459.7L423.5 445.7Q427.7 445 426.5 447.4L371.7 463.5Z" fill="#5a5a5a" stroke="#2a2a2a" stroke-width="1.4"/>
<path d="M372.8 461.5L425.3 446.8" fill="none" stroke="#ddd" stroke-width="1.2"/>
<path d="M349.2 455.2Q344.7 455.7 345.5 458.7Q346.7 461.2 350.7 459.7L357.5 458.2Q363.5 464.7 371 463.3Q375.5 459.4 371.7 457.2Q365 457.2 360.5 453.4Z" fill="#fff" stroke="#2a2a2a" stroke-width="1.8"/>
<path d="M359.3 456.7Q365 461.7 370.2 460.6" fill="none" stroke="#2a2a2a" stroke-width="1.2"/>
<circle cx="348.2" cy="457.9" r="1.6" fill="none" stroke="#2a2a2a" stroke-width="1.3"/>
<path d="M371.7 472.3L428.7 456.9Q432.9 456.1 431.7 458.5L371.7 476.1Z" fill="#5a5a5a" stroke="#2a2a2a" stroke-width="1.4"/>
<path d="M372.8 474.1L430.5 457.9" fill="none" stroke="#ddd" stroke-width="1.2"/>
<path d="M349.2 467.8Q344.7 468.3 345.5 471.3Q346.7 473.8 350.7 472.3L357.5 470.8Q363.5 477.3 371 475.9Q375.5 472 371.7 469.8Q365 469.8 360.5 466Z" fill="#fff" stroke="#2a2a2a" stroke-width="1.8"/>
<path d="M359.3 469.3Q365 474.3 370.2 473.2" fill="none" stroke="#2a2a2a" stroke-width="1.2"/>
<circle cx="348.2" cy="470.5" r="1.6" fill="none" stroke="#2a2a2a" stroke-width="1.3"/>
<path d="M371.7 485.1L422.7 471.3Q426.9 470.5 425.7 472.9L371.7 488.8Z" fill="#5a5a5a" stroke="#2a2a2a" stroke-width="1.4"/>
<path d="M372.8 486.9L424.5 472.3" fill="none" stroke="#ddd" stroke-width="1.2"/>
<path d="M349.2 480.6Q344.7 481 345.5 484Q346.7 486.6 350.7 485.1L357.5 483.6Q363.5 490 371 488.7Q375.5 484.8 371.7 482.5Q365 482.5 360.5 478.8Z" fill="#fff" stroke="#2a2a2a" stroke-width="1.8"/>
<path d="M359.3 482.1Q365 487 370.2 486" fill="none" stroke="#2a2a2a" stroke-width="1.2"/>
<circle cx="348.2" cy="483.3" r="1.6" fill="none" stroke="#2a2a2a" stroke-width="1.3"/>
<path d="M349.2 492.3Q344.7 492.7 345.5 495.7Q346.7 498.3 350.7 496.8L357.5 494.2L356 491.2Z" fill="#fff" stroke="#2a2a2a" stroke-width="1.8"/>
<circle cx="348.2" cy="495" r="1.6" fill="none" stroke="#2a2a2a" stroke-width="1.3"/>
</g>
<path d="M370 511.2Q365.8 516.8 374.2 522.4L440 549M370 511.2L431.6 495.8L449.8 502.8" fill="none" stroke="#2a2a2a" stroke-width="1.3"/>
<path d="M378.4 512.6L434.4 499.5L448.4 505.6" fill="none" stroke="#2a2a2a" stroke-width="1"/>
<path d="M342 409L417.6 390.8M342 511.2L445.6 487.4" fill="none" stroke="#2a2a2a" stroke-width="1"/>
<path d="M392.4 452.4 L392.4 539.2" fill="none" stroke="#2a2a2a" stroke-width="1.3" stroke-dasharray="10 2 2 2"/>
<path d="M419 452.4 L419 550.4" fill="none" stroke="#2a2a2a" stroke-width="1.3" stroke-dasharray="10 2 2 2"/>
<path d="M428.5 430 L428.5 548" fill="none" stroke="#2a2a2a" stroke-width="1.3" stroke-dasharray="10 2 2 2"/>
<path d="M439 432 L439 552" fill="none" stroke="#2a2a2a" stroke-width="1.3" stroke-dasharray="10 2 2 2"/>
<path d="M505.7 160 L505.7 432" fill="none" stroke="#2a2a2a" stroke-width="1.3" stroke-dasharray="10 2 2 2"/>
<path d="M518.5 195 L518.5 462" fill="none" stroke="#2a2a2a" stroke-width="1.3" stroke-dasharray="10 2 2 2"/>
<path d="M461 462 L575 430" fill="none" stroke="#2a2a2a" stroke-width="1.3" stroke-dasharray="10 2 2 2"/>
<path d="M461 478 L600 440" fill="none" stroke="#2a2a2a" stroke-width="1.3" stroke-dasharray="10 2 2 2"/>
<path d="M461 520 L600 484" fill="none" stroke="#2a2a2a" stroke-width="1.3" stroke-dasharray="10 2 2 2"/>
<path d="M461 548 L575 520" fill="none" stroke="#2a2a2a" stroke-width="1.3" stroke-dasharray="10 2 2 2"/>
<!-- rear inner panel 5509 -->
<path d="M570.2 311.8L572.4 310.2L579.4 311.3L580 332L592 338.2L613.8 348.2L623.3 346L634 350.2L639 363.3L673.2 382.4L675.4 374L687.2 371.2L687.2 364.2L706.8 363.3L707.3 556L681.6 553.2L681.6 536.4Q673.2 523.8 664.8 521L575.2 487.4L570.2 483.2Z" fill="#fff" stroke="#2a2a2a" stroke-width="1.8"/>
<path d="M570.2 332L580 332L592 338.2L613.8 348.2L623.3 346L634 350.2L639 363.3L673.2 382.4" fill="none" stroke="#2a2a2a" stroke-width="2.8"/>
<path d="M570.2 311.8L570.2 483.2" fill="none" stroke="#2a2a2a" stroke-width="2.3"/>
<path d="M572.4 312.4 L573 329.2 L579.4 332" fill="none" stroke="#2a2a2a" stroke-width="1.3"/>
<path d="M570.2 332 L568.5 334.8 L568.5 483.2" fill="none" stroke="#2a2a2a" stroke-width="1.2" stroke-dasharray="3 2"/>
<path d="M687.2 371.2 L687.2 522.4" fill="none" stroke="#2a2a2a" stroke-width="1.5"/>
<path d="M690 367 L690 523.8" fill="none" stroke="#2a2a2a" stroke-width="1"/>
<path d="M700.6 364.2 L701.2 555.4" fill="none" stroke="#2a2a2a" stroke-width="2.8"/>
<path d="M704 364.2 L704.5 555.4" fill="none" stroke="#2a2a2a" stroke-width="1.2"/>
<path d="M687.2 522.4Q687.7 533.6 681.6 539.2M695.6 523.8Q695.6 533.6 690 542L690 554.6" fill="none" stroke="#2a2a2a" stroke-width="1.3"/>
<circle cx="688.3" cy="374" r="1" fill="none" stroke="#2a2a2a" stroke-width="1.3"/>
<circle cx="688.3" cy="407.6" r="1" fill="none" stroke="#2a2a2a" stroke-width="1.3"/>
<circle cx="688.3" cy="432.8" r="1" fill="none" stroke="#2a2a2a" stroke-width="1.3"/>
<circle cx="688.3" cy="455.2" r="1" fill="none" stroke="#2a2a2a" stroke-width="1.3"/>
<circle cx="688.3" cy="480.4" r="1" fill="none" stroke="#2a2a2a" stroke-width="1.3"/>
<circle cx="688.3" cy="502.8" r="1" fill="none" stroke="#2a2a2a" stroke-width="1.3"/>
<path d="M676.5 374 L685.8 371.7 L685.8 388.5 L676.5 390.8Z" fill="#fff" stroke="#2a2a2a" stroke-width="1.5"/>
<path d="M679.3 375.4 L679.3 388.5" fill="none" stroke="#2a2a2a" stroke-width="1"/>
<path d="M575.2 487.4L666.2 520.1Q674.6 523.8 674.6 533.6L674.6 551.8L664.8 555.4L573.8 519Z" fill="#fff" stroke="#2a2a2a" stroke-width="1.8"/>
<path d="M573.8 516.8 L665.3 553.2 L665.3 555.4" fill="none" stroke="#2a2a2a" stroke-width="1.3"/>
<path d="M580.8 489.3 L580.8 520.1" fill="none" stroke="#2a2a2a" stroke-width="0.9" stroke-dasharray="3 2"/>
<path d="M662 525.2 L662.5 551.8" fill="none" stroke="#2a2a2a" stroke-width="0.9" stroke-dasharray="3 2"/>
<path d="M577.4 334.8 L592 341 L592 350.2 L577.4 344.6Z" fill="#fff" stroke="#2a2a2a" stroke-width="1.7"/>
<path d="M579.1 337.6 L590.3 342.6 L590.3 347.4 L579.1 342.6Z" fill="none" stroke="#2a2a2a" stroke-width="1.3"/>
<path d="M583.6 358.6Q589.2 353 594.8 360" fill="none" stroke="#2a2a2a" stroke-width="1.8"/>
<ellipse cx="610.2" cy="374" rx="4.2" ry="6.2" fill="none" stroke="#2a2a2a" stroke-width="1.7" transform="rotate(-10 610.2 374)"/>
<path d="M616.6 362.2 L620.5 363.3 L620.5 369.5 L616.6 368.4Z" fill="none" stroke="#2a2a2a" stroke-width="1.5"/>
<path d="M621.4 374 L624.2 375.1 L624.2 381.3 L621.4 380.1Z" fill="none" stroke="#2a2a2a" stroke-width="1.5"/>
<path d="M627.8 369.8 L630.6 370.9 L630.6 379.3 L627.8 378.2Z" fill="none" stroke="#2a2a2a" stroke-width="1.5"/>
<path d="M634 369.8 L637.3 370.9 L637.3 377.1 L634 375.9Z" fill="none" stroke="#2a2a2a" stroke-width="1.5"/>
<ellipse cx="651.3" cy="385.7" rx="4.2" ry="2.4" fill="none" stroke="#2a2a2a" stroke-width="1.5" transform="rotate(25 651.3 385.7)"/>
<path d="M659.2 390.8 L659.7 404.8" fill="none" stroke="#2a2a2a" stroke-width="1.8"/>
<path d="M661.4 392.2 L662 405.3" fill="none" stroke="#2a2a2a" stroke-width="1.3"/>
<path d="M600.4 390.8Q600.4 383.8 607.4 385.7L653.6 409Q663.4 414.6 661.4 427.2L655 460.8Q652.2 474.8 636.8 473.4Q615.8 469.2 606 451Q600.4 441.2 600.4 424.4Z" fill="none" stroke="#2a2a2a" stroke-width="1.8"/>
<path d="M604.6 394.1Q604.6 388.5 610.2 390.8L651.3 411.8Q659.2 416.5 657.5 427.2L651.3 458Q648.5 469.7 636.8 468.6Q618.6 465 609.6 449Q604.6 439.8 604.6 424.4Z" fill="none" stroke="#2a2a2a" stroke-width="1.2"/>
<path d="M610.2 395 L632.6 404.8 L625.6 400.6 L610.2 399.2Z" fill="none" stroke="#2a2a2a" stroke-width="1.4"/>
<path d="M614.9 406.2 L621.4 407.6 L621.4 414.6 L616.6 415.4 L614.9 413.2Z" fill="none" stroke="#2a2a2a" stroke-width="1.5"/>
<path d="M609.4 409 L609.9 424.4" fill="none" stroke="#2a2a2a" stroke-width="1.7"/>
<circle cx="628.4" cy="431.4" r="10.5" fill="none" stroke="#2a2a2a" stroke-width="1.8"/>
<circle cx="629.2" cy="435" r="1.2" fill="none" stroke="#2a2a2a" stroke-width="1.3"/>
<path d="M618.6 421.6 L623.3 419.3 L622.2 424.4Z" fill="none" stroke="#2a2a2a" stroke-width="1.4"/>
<path d="M639 428.6 L643.8 427.2 L643.8 435.6 L639 435.6Z" fill="none" stroke="#2a2a2a" stroke-width="1.4"/>
<path d="M626.1 449 L634 450.1 L634 455.2 L626.1 453.8Z" fill="none" stroke="#2a2a2a" stroke-width="1.7"/>
<ellipse cx="655" cy="427.7" rx="3.4" ry="4.4" fill="none" stroke="#2a2a2a" stroke-width="1.5" transform="rotate(-20 655 427.7)"/>
<ellipse cx="669.8" cy="409.8" rx="6.4" ry="8.4" fill="none" stroke="#2a2a2a" stroke-width="2" transform="rotate(-15 669.8 409.8)"/>
<ellipse cx="669.8" cy="409.8" rx="3.4" ry="5" fill="none" stroke="#2a2a2a" stroke-width="1.4" transform="rotate(-15 669.8 409.8)"/>
<path d="M678.2 402 L678.8 413.2" fill="none" stroke="#2a2a2a" stroke-width="1.9"/>
<path d="M667.6 424.4 L680.2 431.4" fill="none" stroke="#2a2a2a" stroke-width="2.8" stroke-dasharray="1.5 1.5"/>
<path d="M614.4 471.4 L641 483.2 L641 487.4 L614.4 475.3Z" fill="none" stroke="#2a2a2a" stroke-width="1.4"/>
<path d="M617.2 474.2 L639 484" fill="none" stroke="#2a2a2a" stroke-width="2"/>
<path d="M656.4 495.8Q656.4 490.2 662 492.1L677.4 498.6Q681.6 500.5 681.6 505.6L681.6 511.2Q681.6 515.4 676.5 513.4L660.6 507Q656.4 505 656.4 500Z" fill="none" stroke="#2a2a2a" stroke-width="1.7"/>
<path d="M658.6 497.2Q658.6 493.8 662.5 495.2L676 500.5Q679.1 501.9 679.1 505.6L679.1 509.8L661.4 504.2Q658.6 502.8 658.6 500Z" fill="none" stroke="#2a2a2a" stroke-width="1.2"/>
<path d="M576.6 386.6l0.1 0M577.4 413.2l0.1 0M578 430l0.1 0M583.6 452.4l0.1 0M592 455.2l0.1 0M585 469.2l0.1 0M586.4 483.2l0.1 0M594.8 466.4l0.1 0M618.6 451l0.1 0M642.4 418.8l0.1 0M659.2 483.2l0.1 0M662 465l0.1 0M673.2 446.8l0.1 0M674.6 469.2l0.1 0M607.4 334.2l0.1 0M625.6 348.8l0.1 0M649.4 397.8l0.1 0M592 424.4l0.1 0M592 417.4l0.1 0" fill="none" stroke="#2a2a2a" stroke-width="2.3"/>
<path d="M576.6 410.4L577.2 421.6M592 410.4L592.6 421.6M570.2 435.6L570.7 444M578 442.6L592 446.8M580.8 451L581.4 458M662 462.2L665.3 467.8M673.2 466.4L676.5 471.4" fill="none" stroke="#2a2a2a" stroke-width="1.7"/>
<path d="M593.4 407.6 L593.4 504.2 L687.2 480.4" fill="none" stroke="#2a2a2a" stroke-width="1.2" stroke-dasharray="2.5 2.5"/>
<path d="M579.4 430 L579.4 563 L681.6 551.8" fill="none" stroke="#2a2a2a" stroke-width="1.2" stroke-dasharray="2.5 2.5"/>
<path d="M571.2 401.2 L717.5 367.5" fill="none" stroke="#2a2a2a" stroke-width="1.3" stroke-dasharray="10 2 2 2"/>
<path d="M571.2 422.5 L750 380" fill="none" stroke="#2a2a2a" stroke-width="1.3" stroke-dasharray="10 2 2 2"/>
<path d="M552.5 442.5 L686.2 411.2" fill="none" stroke="#2a2a2a" stroke-width="1.3" stroke-dasharray="10 2 2 2"/>
<path d="M552.5 458.8 L686.2 426.2" fill="none" stroke="#2a2a2a" stroke-width="1.3" stroke-dasharray="10 2 2 2"/>
<path d="M575 476.2 L686.2 448.8" fill="none" stroke="#2a2a2a" stroke-width="1.3" stroke-dasharray="10 2 2 2"/>
<path d="M707.5 400 L750 391.2" fill="none" stroke="#2a2a2a" stroke-width="1.3" stroke-dasharray="10 2 2 2"/>
<path d="M707.5 410 L750 401.2" fill="none" stroke="#2a2a2a" stroke-width="1.3" stroke-dasharray="10 2 2 2"/>
<path d="M707.5 425 L750 416.2" fill="none" stroke="#2a2a2a" stroke-width="1.3" stroke-dasharray="10 2 2 2"/>
<path d="M707.5 445.5 L750 436.2" fill="none" stroke="#2a2a2a" stroke-width="1.3" stroke-dasharray="10 2 2 2"/>
<path d="M707.5 470 L750 461.2" fill="none" stroke="#2a2a2a" stroke-width="1.3" stroke-dasharray="10 2 2 2"/>
<path d="M707.5 486.2 L750 476.2" fill="none" stroke="#2a2a2a" stroke-width="1.3" stroke-dasharray="10 2 2 2"/>
<path d="M593.4 353.8 L645.2 339.4" fill="none" stroke="#2a2a2a" stroke-width="1.3" stroke-dasharray="10 2 2 2"/>
<path d="M593.4 353.8 L596.2 351.6 L595.9 354.2Z" fill="#2a2a2a" stroke="#2a2a2a" stroke-width="1.3"/>
<!-- top plate 5540 and small bracket above it -->
<path d="M332.5 83.8L343.8 73.8L446.2 48.2L461.2 53.2L469.2 60L455 73L492.5 85.5L517.5 73.2L553.8 85L556.8 96.2L546.2 100L548.8 107.5L537.5 103.8L470 122.5L448 137L445 139.2L335.5 92Z" fill="#fff" stroke="#2a2a2a" stroke-width="1.8"/>
<path d="M332.5 83.8 L447.5 132 L468.8 117.5 L535 100" fill="none" stroke="#2a2a2a" stroke-width="1.4"/>
<path d="M340 78 L450 124.5 L467.5 113.8" fill="none" stroke="#2a2a2a" stroke-width="1.2"/>
<path d="M343.8 73.8 L350 77.5" fill="none" stroke="#2a2a2a" stroke-width="1.2"/>
<path d="M336.2 91.2 L337 97.5 L376.2 111.2 L382.5 107.5 L381.2 103.8" fill="none" stroke="#2a2a2a" stroke-width="1.5"/>
<path d="M382.5 107.5 L402.5 116.2 L406.2 121.2 L442.5 136.2" fill="none" stroke="#2a2a2a" stroke-width="1.4"/>
<path d="M402.5 116.2 L407.5 113.8" fill="none" stroke="#2a2a2a" stroke-width="1.2"/>
<path d="M345 86.2 L395 106.2 L400 102.5 L425 112.5" fill="none" stroke="#2a2a2a" stroke-width="1.2"/>
<path d="M407.5 63.8 L437.5 55.5 L450 61.2 L420 70Z" fill="none" stroke="#2a2a2a" stroke-width="1.4"/>
<path d="M418.8 65.5 L430 62.5 L437.5 65.8 L426.2 69Z" fill="none" stroke="#2a2a2a" stroke-width="1.4"/>
<path d="M395 86.2 L415 80.5 L418.8 82.5 L398.8 88.8Z" fill="none" stroke="#2a2a2a" stroke-width="1.4"/>
<path d="M422.5 86.2 L450 78.8 L461.2 83.8 L433.8 92Z" fill="none" stroke="#2a2a2a" stroke-width="1.4"/>
<path d="M431.2 87.5 L446.2 83.5 L452.5 86.2 L437.5 90.5Z" fill="none" stroke="#2a2a2a" stroke-width="1.4"/>
<path d="M446.2 108.8 L461.2 103 L467.5 106.2 L452.5 112.5Z" fill="none" stroke="#2a2a2a" stroke-width="1.4"/>
<path d="M510 82.5 L520 79.5 L542.5 87.5 L532.5 91.2Z" fill="none" stroke="#2a2a2a" stroke-width="1.4"/>
<path d="M387.5 67 L443.8 51.2" fill="none" stroke="#2a2a2a" stroke-width="1.7"/>
<path d="M391.2 68.8 L406.2 64.5" fill="none" stroke="#2a2a2a" stroke-width="1.2"/>
<path d="M405 75 L430 85 L460 75 L455 73" fill="none" stroke="#2a2a2a" stroke-width="1.2"/>
<path d="M442.5 96.2 L485 87.5 L492.5 85.5" fill="none" stroke="#2a2a2a" stroke-width="1.2"/>
<path d="M480 90 L467.5 105" fill="none" stroke="#2a2a2a" stroke-width="1"/>
<path d="M475 111.2 L505 102.5 L512.5 97.5" fill="none" stroke="#2a2a2a" stroke-width="1.3"/>
<path d="M515 83.8 L537.5 92" fill="none" stroke="#2a2a2a" stroke-width="2" stroke-dasharray="2 1.5"/>
<path d="M377.5 78 L391.2 76.2" fill="none" stroke="#333" stroke-width="4.6"/>
<path d="M378 78 L390.8 76.4" fill="none" stroke="#fff" stroke-width="2.3"/>
<path d="M367.5 74.5 L380 80" fill="none" stroke="#2a2a2a" stroke-width="1"/>
<path d="M357.5 75l0.1 0M378.8 85l0.1 0M395 92.5l0.1 0M415 108.8l0.1 0M430 106.2l0.1 0M442.5 117.5l0.1 0M460 117.5l0.1 0M480 100l0.1 0M495 97.5l0.1 0M510 95l0.1 0M427.5 90l0.1 0M457.5 72.5l0.1 0M466.2 77.5l0.1 0M443.8 58.8l0.1 0M443.8 53.2l0.1 0" fill="none" stroke="#2a2a2a" stroke-width="2.2"/>
<path d="M422.5 91.2 L432.5 94.5" fill="none" stroke="#2a2a2a" stroke-width="2.6" stroke-dasharray="1.5 1.5"/>
<path d="M453.8 115 L462.5 118" fill="none" stroke="#2a2a2a" stroke-width="2.6" stroke-dasharray="1.5 1.5"/>
<path d="M537.5 103.8 L548.8 100 L548.8 108" fill="none" stroke="#2a2a2a" stroke-width="1.3"/>
<path d="M386.2 67.8 L437.8 54.9" fill="none" stroke="#2a2a2a" stroke-width="3.1" stroke-dasharray="6 1.5"/>
<path d="M437.8 101.4 L483.4 88 L485.8 90.4 L440.7 103.8Z" fill="none" stroke="#2a2a2a" stroke-width="1.3"/>
<path d="M478.6 110.1 L507.4 103.4" fill="none" stroke="#2a2a2a" stroke-width="3.1" stroke-dasharray="4 2"/>
<path d="M481 106 L493 102.9" fill="none" stroke="#2a2a2a" stroke-width="2.3" stroke-dasharray="2 2"/>
<path d="M451 116.3 L464.2 118.2" fill="none" stroke="#2a2a2a" stroke-width="3.3" stroke-dasharray="2 1.2"/>
<path d="M423.4 90.4 L430.6 93.3" fill="none" stroke="#2a2a2a" stroke-width="3.1" stroke-dasharray="2 1.2"/>
<path d="M339.4 81.3 L397 103.8 L401.8 100.5 L428.2 110.1 L432 107.2" fill="none" stroke="#2a2a2a" stroke-width="1.3"/>
<path d="M517 80.8 L542.2 89.9" fill="none" stroke="#2a2a2a" stroke-width="2.8" stroke-dasharray="1.6 1.4"/>
<path d="M511 85.6 L536.2 94.7" fill="none" stroke="#2a2a2a" stroke-width="2.8" stroke-dasharray="1.6 1.4"/>
<path d="M521.8 76 L550.6 85.6 L553 91.6" fill="none" stroke="#2a2a2a" stroke-width="1.3"/>
<path d="M334.6 90.9 L337.5 98.1 L376.6 111.3 L382.6 107.2 L381.6 102.9" fill="none" stroke="#2a2a2a" stroke-width="1.7"/>
<path d="M404.2 117.3 L408 124.5 L445 137.7 L449.8 132.9" fill="none" stroke="#2a2a2a" stroke-width="1.7"/>
<path d="M376.6 76.5 L380.7 80.3" fill="none" stroke="#2a2a2a" stroke-width="1.8"/>
<path d="M379.7 84.4 L385 86.1" fill="none" stroke="#2a2a2a" stroke-width="2.6" stroke-dasharray="1.5 1.2"/>
<path d="M420.5 39.5 L466.2 27.5 L469.2 30.5 L423.8 42.5Z" fill="#fff" stroke="#2a2a2a" stroke-width="1.7"/>
<path d="M430 38 L460 30" fill="none" stroke="#2a2a2a" stroke-width="2.6"/>
<path d="M426.2 37.5 L426.2 27.5 L463.8 18" fill="none" stroke="#2a2a2a" stroke-width="1.3" stroke-dasharray="10 2 2 2"/>
<path d="M464.5 7.5 L464.5 28" fill="none" stroke="#2a2a2a" stroke-width="1.3" stroke-dasharray="10 2 2 2"/>
<circle cx="464.5" cy="3" r="2.1" fill="#2a2a2a"/><line x1="464.5" y1="3" x2="464.5" y2="9.5" stroke="#2a2a2a" stroke-width="2.8" stroke-dasharray="1.4 0.6"/>
<!-- door gasket 5556 -->
<path d="M271.7 777.5L271.7 773Q271.7 770.5 268.9 769.3L226.6 752.3Q218.2 748.6 218.2 740.2L218.2 637.4Q218.2 627.4 227.2 631.3L323.2 670.5Q331.6 674.1 331.6 682.8L331.6 785.9Q331.6 794.8 323.2 791.2L282.9 775.2Q279.5 773.8 279.5 777.2L279.5 779.4" fill="none" stroke="#2a2a2a" stroke-width="4.6"/>
<path d="M271.7 777.5L271.7 773Q271.7 770.5 268.9 769.3L226.6 752.3Q218.2 748.6 218.2 740.2L218.2 637.4Q218.2 627.4 227.2 631.3L323.2 670.5Q331.6 674.1 331.6 682.8L331.6 785.9Q331.6 794.8 323.2 791.2L282.9 775.2Q279.5 773.8 279.5 777.2L279.5 779.4" fill="none" stroke="#fff" stroke-width="1.9"/>
<path d="M221 669.4L223.8 669.4M221 700.2L223.8 700.2M221 734.6L223.8 734.6M251.8 641.4L253.2 639.1M278.4 652.6L279.8 650.3M304.2 663.2L305.6 661M324.6 671L326.6 669.4M333.9 694L336.7 694M333.9 715.9L336.7 715.9M333.9 747.8L336.7 747.8M333.9 778L336.7 778M260.2 762.6L259.4 764.6M225.2 747.8L223.5 749.5M292.4 781.4L291.6 783.3M317.6 791.5L316.8 793.4" fill="none" stroke="#2a2a2a" stroke-width="1.9"/>
<!-- lower strip 5506 -->
<path d="M352.6 770.2 L419.8 799.3 L419.8 803.2 L352.6 774.7Z" fill="#444" stroke="#2a2a2a" stroke-width="1.5"/>
<path d="M354.6 771.9L354.6 774.4M356.5 772.7L356.5 775.2M358.5 773.6L358.5 776.1M360.5 774.4L360.5 776.9M362.4 775.3L362.4 777.8M364.4 776.1L364.4 778.6M366.3 777L366.3 779.5M368.3 777.8L368.3 780.3M370.3 778.7L370.3 781.2M372.2 779.5L372.2 782M374.2 780.4L374.2 782.9M376.1 781.2L376.1 783.7M378.1 782.1L378.1 784.6M380.1 782.9L380.1 785.4M382 783.8L382 786.3M384 784.6L384 787.1M385.9 785.5L385.9 788M387.9 786.3L387.9 788.8M389.9 787.2L389.9 789.7M391.8 788L391.8 790.5M393.8 788.9L393.8 791.4M395.7 789.7L395.7 792.2M397.7 790.6L397.7 793.1M399.7 791.4L399.7 793.9M401.6 792.3L401.6 794.8M403.6 793.1L403.6 795.6M405.5 794L405.5 796.5M407.5 794.8L407.5 797.3M409.5 795.7L409.5 798.2M411.4 796.5L411.4 799M413.4 797.3L413.4 799.9M415.3 798.2L415.3 800.7M417.3 799L417.3 801.6" fill="none" stroke="#ccc" stroke-width="0.8"/>
<path d="M352.1 769.6 L352.1 775.8" fill="none" stroke="#2a2a2a" stroke-width="2.6"/>
<path d="M410.6 793.4 L417 795.4 L417 803.2" fill="none" stroke="#2a2a2a" stroke-width="2"/>
<path d="M354.6 777.5 L354.6 787 L410 810.5 L410 803.2" fill="none" stroke="#2a2a2a" stroke-width="1.3" stroke-dasharray="10 2 2 2"/>
<path d="M410 810.5 L410 820" fill="none" stroke="#2a2a2a" stroke-width="1.3" stroke-dasharray="10 2 2 2"/>
<circle cx="410" cy="823.7" r="2.1" fill="#2a2a2a"/><line x1="410" y1="823.7" x2="410" y2="818.2" stroke="#2a2a2a" stroke-width="2.8" stroke-dasharray="1.4 0.6"/>
<!-- broil element 5513 -->
<path d="M500 753L508 757Q512.4 759 511.6 763Q511 766.4 507 767.6L446 784.4Q436 786 428 783.6L377 762.4Q370 759 377 755.6L436 737Q448 734 457 736.4Q462 739 457 742L400 758.4Q394.4 761 400 764Q406 765.6 412 763.6L464 748Q473 745.6 478 748Q482.4 751 477 753.6L426 769Q420.4 772 426 775Q432 776.4 438 774.4L492 759L500 757" fill="none" stroke="#2a2a2a" stroke-width="4.1"/>
<path d="M500 753L508 757Q512.4 759 511.6 763Q511 766.4 507 767.6L446 784.4Q436 786 428 783.6L377 762.4Q370 759 377 755.6L436 737Q448 734 457 736.4Q462 739 457 742L400 758.4Q394.4 761 400 764Q406 765.6 412 763.6L464 748Q473 745.6 478 748Q482.4 751 477 753.6L426 769Q420.4 772 426 775Q432 776.4 438 774.4L492 759L500 757" fill="none" stroke="#fff" stroke-width="1.5"/>
<path d="M423.6 740 L494 771" fill="none" stroke="#2a2a2a" stroke-width="4.4"/>
<path d="M424 740.2 L493.6 770.8" fill="none" stroke="#bbb" stroke-width="1.3"/>
<path d="M487 747 L504 752 L505 757 L492 759 L487 752Z" fill="#666" stroke="#2a2a2a" stroke-width="1.8"/>
<path d="M498 748 L505 745.6" fill="none" stroke="#2a2a2a" stroke-width="3.6"/>
<path d="M510 754 L520 751" fill="none" stroke="#2a2a2a" stroke-width="3.6"/>
<path d="M489 746.4 L498 750" fill="none" stroke="#2a2a2a" stroke-width="2.8"/>
<!-- convection fan group: cover 3222, heater ring 5521, fan 5407 -->
<path d="M72.9 545.4 L315.9 498.7" fill="none" stroke="#2a2a2a" stroke-width="1.4" stroke-dasharray="8 3.5"/>
<path d="M144.5 552.6 L320 516.7" fill="none" stroke="#2a2a2a" stroke-width="1.4" stroke-dasharray="8 3.5"/>
<path d="M148.5 581 L320 544.5" fill="none" stroke="#2a2a2a" stroke-width="1.4" stroke-dasharray="8 3.5"/>
<path d="M114.8 614.7 L320 564.8" fill="none" stroke="#2a2a2a" stroke-width="1.4" stroke-dasharray="8 3.5"/>
<path d="M147.7 607.5 L309.2 570.2" fill="none" stroke="#2a2a2a" stroke-width="1.4" stroke-dasharray="8 3.5"/>
<path d="M72.9 545.4 L72.9 602.6 L114.8 614.7 L114.8 606.6" fill="none" stroke="#2a2a2a" stroke-width="1.4" stroke-dasharray="8 3.5"/>
<path d="M72.9 602.6 L85.1 594.5" fill="none" stroke="#2a2a2a" stroke-width="1.3" stroke-dasharray="8 3.5"/>
<path d="M72.9 545.4 L84.6 543.2" fill="none" stroke="#2a2a2a" stroke-width="1.3" stroke-dasharray="8 3.5"/>
<path d="M88.7 542.4L99.2 534.7L102.7 534.3L136.3 550.1L144 555.7L147.9 562L142.9 562.7L144.8 598.4L149.6 599.2L149.6 609L141.9 612.7L137.7 610.3Z" fill="#fff" stroke="#2a2a2a" stroke-width="1.8"/>
<path d="M106.2 538.9L132.8 551.5M104.8 541L132.1 553.6" fill="none" stroke="#2a2a2a" stroke-width="1.5"/>
<path d="M99.2 534.7L100.6 538.2M136.3 550.1L135.6 553.6" fill="none" stroke="#2a2a2a" stroke-width="1.3"/>
<path d="M84.9 548Q84.9 541 91.5 541.3Q116 543.8 138.4 556.7Q141.2 558.5 140.9 563.4L138.7 609.6Q113.2 604 88.7 591.7Q86.3 590 86 585.8Z" fill="#fff" stroke="#2a2a2a" stroke-width="2"/>
<path d="M86.9 548.7Q86.9 543.5 91.9 543.5Q115.3 545.9 136.7 558.1Q139.1 559.6 138.8 563.7L136.7 606.8" fill="none" stroke="#2a2a2a" stroke-width="1.2"/>
<path d="M87.3 551.5 L95 554.6 L95 562 L87.3 558.9Z" fill="none" stroke="#2a2a2a" stroke-width="1.8"/>
<path d="M87.3 563.1 L94.3 566.2 L94.3 573.2 L87.3 570.1Z" fill="none" stroke="#2a2a2a" stroke-width="1.8"/>
<path d="M87.3 575.3 L95 578.4 L95 585.8 L87.3 582.7Z" fill="none" stroke="#2a2a2a" stroke-width="1.8"/>
<path d="M129.3 568.3 L138.4 571.4 L137.8 579.2 L129 576.1Z" fill="none" stroke="#2a2a2a" stroke-width="1.8"/>
<path d="M131.4 580.9 L138.4 584 L137.8 591.1 L131.1 588Z" fill="none" stroke="#2a2a2a" stroke-width="1.8"/>
<path d="M129.3 592.8 L137.7 595.9 L137.1 603.7 L129 600.6Z" fill="none" stroke="#2a2a2a" stroke-width="1.8"/>
<ellipse cx="111.8" cy="577.4" rx="16.4" ry="23.4" fill="#fff" stroke="#2a2a2a" stroke-width="1.9" transform="rotate(-10 111.8 577.4)"/>
<ellipse cx="111.8" cy="577.4" rx="14.6" ry="21.2" fill="none" stroke="#2a2a2a" stroke-width="1.3" transform="rotate(-10 111.8 577.4)"/>
<ellipse cx="112.1" cy="577.9" rx="13.2" ry="19.4" fill="#2b2b2b" stroke="#2a2a2a" stroke-width="1.3" transform="rotate(-10 112.1 577.9)"/>
<ellipse cx="112.1" cy="577.9" rx="11.6" ry="17.4" fill="none" stroke="#8a8a8a" stroke-width="0.8" transform="rotate(-10 112.1 577.9)" stroke-dasharray="1 1.2"/>
<ellipse cx="182.3" cy="557.2" rx="19.5" ry="26" fill="none" stroke="#2a2a2a" stroke-width="1.8" transform="rotate(-14 182.3 557.2)"/>
<ellipse cx="182.3" cy="557.2" rx="18" ry="24.3" fill="none" stroke="#2a2a2a" stroke-width="1.2" transform="rotate(-14 182.3 557.2)"/>
<ellipse cx="182.3" cy="557.2" rx="16.5" ry="22.6" fill="none" stroke="#2a2a2a" stroke-width="1.7" transform="rotate(-14 182.3 557.2)"/>
<path d="M166.1 535.1 L176.9 527 L185 528.3" fill="none" stroke="#2a2a2a" stroke-width="2"/>
<path d="M168.8 532.4 L179.6 525.6" fill="none" stroke="#2a2a2a" stroke-width="1.3"/>
<path d="M162 554 L164.7 552.6" fill="none" stroke="#2a2a2a" stroke-width="2"/>
<path d="M190.4 535.1 L193.1 536.4" fill="none" stroke="#2a2a2a" stroke-width="2"/>
<path d="M197.1 579.6 L199.8 581" fill="none" stroke="#2a2a2a" stroke-width="2"/>
<circle cx="62.1" cy="547.2" r="2.1" fill="#2a2a2a"/><line x1="62.1" y1="547.2" x2="67.3" y2="549.1" stroke="#2a2a2a" stroke-width="2.8" stroke-dasharray="1.4 0.6"/>
<circle cx="155.3" cy="535.1" r="2.1" fill="#2a2a2a"/><line x1="155.3" y1="535.1" x2="160.5" y2="537" stroke="#2a2a2a" stroke-width="2.8" stroke-dasharray="1.4 0.6"/>
<circle cx="174.2" cy="589.1" r="2.1" fill="#2a2a2a"/><line x1="174.2" y1="589.1" x2="180.3" y2="591.3" stroke="#2a2a2a" stroke-width="2.8" stroke-dasharray="1.4 0.6"/>
<circle cx="185" cy="527" r="2.1" fill="#2a2a2a"/><line x1="185" y1="527" x2="190.2" y2="528.9" stroke="#2a2a2a" stroke-width="2.8" stroke-dasharray="1.4 0.6"/>
<path d="M250.8 539.1L260.1 542.5L260.3 536.7ZM250.4 541L257 549.4L259.6 544.6ZM249.2 542.4L251.5 553.7L255.7 550.9ZM247.6 542.9L244.8 554L249.7 554.2ZM246 542.4L239 550.3L243.1 553.4ZM244.9 541L235.4 543.7L237.7 548.7ZM244.4 539.1L235.1 535.8L235 541.6ZM244.9 537.2L238.2 528.9L235.7 533.7ZM246 535.9L243.8 524.6L239.5 527.4ZM247.6 535.3L250.4 524.3L245.6 524.1ZM249.2 535.9L256.3 528L252.2 524.9ZM250.4 537.2L259.8 534.6L257.5 529.5Z" fill="#999" stroke="#2a2a2a" stroke-width="1.9"/>
<ellipse cx="247.6" cy="539.1" rx="3.4" ry="4" fill="#fff" stroke="#2a2a2a" stroke-width="1.8"/>
<ellipse cx="247.6" cy="539.1" rx="8" ry="9.6" fill="none" stroke="#2a2a2a" stroke-width="1.2"/>
<circle cx="214.7" cy="548.1" r="1.6" fill="#2a2a2a" stroke="#2a2a2a" stroke-width="1.3"/>
<circle cx="226" cy="544.8" r="1.6" fill="#2a2a2a" stroke="#2a2a2a" stroke-width="1.3"/>
<path d="M269.2 531.9 L271.9 534 L269.2 536.2 L266.8 534Z" fill="none" stroke="#2a2a2a" stroke-width="1.4"/>
<path d="M279.5 530.2 L285.4 528.6" fill="none" stroke="#2a2a2a" stroke-width="3.3" stroke-dasharray="1.5 1"/>
<circle cx="294.3" cy="529.7" r="2.3" fill="#2a2a2a" stroke="#2a2a2a" stroke-width="1.3"/>
<path d="M193.1 524.8 L222.8 518.9" fill="none" stroke="#2a2a2a" stroke-width="2.8" stroke-dasharray="5 1.5 1.5 1.5"/>
<path d="M239 514.8 L287.6 503.2" fill="none" stroke="#2a2a2a" stroke-width="2.8" stroke-dasharray="6 1.5 1.5 1.5"/>
<circle cx="291.6" cy="501.3" r="2" fill="#2a2a2a" stroke="#2a2a2a" stroke-width="1.3"/>
<!-- blower 5124, duct, rods 5504, 5517, 3031 -->
<path d="M489.6 146.9 L497.3 144 L531.6 158.4 L525.6 162Z" fill="#fff" stroke="#2a2a2a" stroke-width="1.7"/>
<path d="M489.6 146.9 L525.6 162 L525.6 176.4 L491 163.7Z" fill="#fff" stroke="#2a2a2a" stroke-width="1.7"/>
<path d="M525.6 162 L531.6 158.4 L531.6 178.8 L525.6 182.4Z" fill="#fff" stroke="#2a2a2a" stroke-width="1.7"/>
<path d="M492 148.8 L498 146.4 L529.2 159.6" fill="none" stroke="#2a2a2a" stroke-width="1.2"/>
<path d="M492 148.8 L493 162.7" fill="none" stroke="#2a2a2a" stroke-width="1.2"/>
<path d="M491 163.7 L492 168 L516 176.4 L517.2 192 L525.6 189.6 L525.6 176.4" fill="none" stroke="#2a2a2a" stroke-width="1.5"/>
<path d="M501.6 184.8 L516 181.2 L528 186 L528 192 L516 195.6" fill="none" stroke="#2a2a2a" stroke-width="1.8"/>
<path d="M517.2 192 L517.2 196.8 L526.8 194.4" fill="none" stroke="#2a2a2a" stroke-width="2.3"/>
<path d="M520.8 177.6 L520.8 189.6" fill="none" stroke="#2a2a2a" stroke-width="2.6"/>
<path d="M528.5 165.6 L528.5 180" fill="none" stroke="#2a2a2a" stroke-width="2"/>
<circle cx="491.3" cy="138" r="2.1" fill="#2a2a2a"/><line x1="491.3" y1="138" x2="491.3" y2="143.5" stroke="#2a2a2a" stroke-width="2.8" stroke-dasharray="1.4 0.6"/>
<path d="M491.3 140.4 L491.3 146.9" fill="none" stroke="#2a2a2a" stroke-width="1.3" stroke-dasharray="10 2 2 2"/>
<path d="M531.6 166.8 L544.8 164.4 L561.6 172.3" fill="none" stroke="#2a2a2a" stroke-width="1.3" stroke-dasharray="10 2 2 2"/>
<path d="M531.6 177.1 L561.6 181.4" fill="none" stroke="#2a2a2a" stroke-width="1.3" stroke-dasharray="10 2 2 2"/>
<path d="M492 192 L544.8 176.4 L562.8 182.9" fill="none" stroke="#2a2a2a" stroke-width="1.3" stroke-dasharray="10 2 2 2"/>
<circle cx="565.4" cy="171.4" r="2.1" fill="#2a2a2a"/><line x1="565.4" y1="171.4" x2="559.3" y2="173.6" stroke="#2a2a2a" stroke-width="2.8" stroke-dasharray="1.4 0.6"/>
<circle cx="565.4" cy="180.5" r="2.1" fill="#2a2a2a"/><line x1="565.4" y1="180.5" x2="559.3" y2="182.7" stroke="#2a2a2a" stroke-width="2.8" stroke-dasharray="1.4 0.6"/>
<path d="M444 192Q444 184.8 452.4 181.2L489.6 194.9L492 202.8L482.4 210L450 199.2Q444 198 444 192Z" fill="#3a3a3a" stroke="#2a2a2a" stroke-width="1.7"/>
<path d="M446.9 184.3L445.9 197.5M449.6 185.3L448.7 198.5M452.4 186.3L451.4 199.5M455.2 187.3L454.2 200.5M457.9 188.4L457 201.6M460.7 189.4L459.7 202.6M463.4 190.4L462.5 203.6M466.2 191.4L465.2 204.6M469 192.4L468 205.6M471.7 193.4L470.8 206.6M474.5 194.4L473.5 207.6M477.2 195.4L476.3 208.6M480 196.4L479 209.6M482.8 197.4L481.8 210.6" fill="none" stroke="#8c8c8c" stroke-width="0.6"/>
<path d="M448.8 182.9 L462 180 L489.6 190.8 L489.6 194.9" fill="#fff" stroke="#2a2a2a" stroke-width="1.5"/>
<path d="M453.6 182.9 L487.2 194.9" fill="none" stroke="#2a2a2a" stroke-width="1.5" stroke-dasharray="2 1.5"/>
<path d="M482.9 201.6 L492 198 L498.2 202.8 L498.2 222 L489.6 224.4 L482.9 219.6Z" fill="#fff" stroke="#2a2a2a" stroke-width="1.9"/>
<path d="M486 205.2 L494.9 203.5 L494.9 219.6 L486 220.8Z" fill="#555" stroke="#2a2a2a" stroke-width="1.8"/>
<path d="M488.4 207.6 L492.7 206.9 L492.7 217.2 L488.4 217.9Z" fill="#ddd" stroke="#2a2a2a" stroke-width="1"/>
<path d="M481.2 206.4 L481.2 218.4" fill="none" stroke="#2a2a2a" stroke-width="2.6"/>
<path d="M497.3 230.9 L442.1 278.9" fill="none" stroke="#2a2a2a" stroke-width="2.3"/>
<circle cx="497.3" cy="229.9" r="1.5" fill="none" stroke="#2a2a2a" stroke-width="1.4"/>
<path d="M442.1 278.9 L440.6 283.2 L443 283.7" fill="none" stroke="#2a2a2a" stroke-width="1.5"/>
<path d="M471.6 253.2 L456 270" fill="none" stroke="#2a2a2a" stroke-width="1.3"/>
<path d="M457.9 324.5 L573.6 295.2 L577.9 295.7 L578.4 300 L574.8 301.2 L459.6 329.3Z" fill="#fff" stroke="#2a2a2a" stroke-width="1.5"/>
<path d="M459.6 325.9 L573.6 297.6" fill="none" stroke="#2a2a2a" stroke-width="3.8"/>
<path d="M573.6 295.2 L574.8 301.2" fill="none" stroke="#2a2a2a" stroke-width="1.3"/>
<path d="M418.8 289.2 L430.8 291.6 L436.8 288 L434.4 285.6" fill="none" stroke="#2a2a2a" stroke-width="1.7"/>
<path d="M422.4 291.6 L422.4 296.4 L430.8 297.6 L430.8 291.6" fill="none" stroke="#2a2a2a" stroke-width="1.7"/>
<path d="M432 285.6 L442.8 279.6" fill="none" stroke="#2a2a2a" stroke-width="1.3"/>
<path d="M588 220.3L613.2 229.2L613.2 298.8L609.6 300L598.8 296.4L596.4 285.6Z" fill="#fff" stroke="#2a2a2a" stroke-width="1.8"/>
<path d="M590.9 225.6 L610.8 232.8 L610.8 296.4" fill="none" stroke="#2a2a2a" stroke-width="1.2"/>
<path d="M590.9 225.6 L599.5 285.6" fill="none" stroke="#2a2a2a" stroke-width="1.2"/>
<path d="M589.4 222.7 L612 230.9" fill="none" stroke="#2a2a2a" stroke-width="2.3"/>
<path d="M604.8 235.2 L609.6 236.9" fill="none" stroke="#2a2a2a" stroke-width="2"/>
<path d="M610.8 235.2 L602.4 276" fill="none" stroke="#2a2a2a" stroke-width="1.2"/>
<circle cx="601.7" cy="286.1" r="5.4" fill="#fff" stroke="#2a2a2a" stroke-width="1.9"/>
<circle cx="601.7" cy="286.1" r="3.4" fill="none" stroke="#2a2a2a" stroke-width="1.3"/>
<circle cx="602.9" cy="258" r="0.8" fill="none" stroke="#2a2a2a" stroke-width="1.3"/>
<path d="M598.8 297.6 L612 302.4 L613.2 298.8" fill="none" stroke="#2a2a2a" stroke-width="2"/>
<path d="M600 300.5 L610.8 304.3" fill="none" stroke="#2a2a2a" stroke-width="1.5"/>
<path d="M573.6 304.8 L598.8 298.1" fill="none" stroke="#2a2a2a" stroke-width="1.3" stroke-dasharray="10 2 2 2"/>
<path d="M613.2 299.5 L634.8 293.3" fill="none" stroke="#2a2a2a" stroke-width="1.3" stroke-dasharray="10 2 2 2"/>
<circle cx="637.4" cy="292.1" r="2.1" fill="#2a2a2a"/><line x1="637.4" y1="292.1" x2="631.3" y2="294.3" stroke="#2a2a2a" stroke-width="2.8" stroke-dasharray="1.4 0.6"/>
<path d="M615.6 244.8 L624 241.9 L644.9 248.4 L637.2 252Z" fill="#fff" stroke="#2a2a2a" stroke-width="1.7"/>
<path d="M615.6 244.8 L615.6 250.8 L637.2 258 L637.2 252" fill="none" stroke="#2a2a2a" stroke-width="1.3"/>
<ellipse cx="624.5" cy="245.3" rx="3.6" ry="1.9" fill="none" stroke="#2a2a2a" stroke-width="1.4"/>
<ellipse cx="636" cy="249.6" rx="3.6" ry="1.9" fill="none" stroke="#2a2a2a" stroke-width="1.4"/>
<path d="M620.4 252 L620.4 260.4 L646.8 270" fill="none" stroke="#2a2a2a" stroke-width="1.3" stroke-dasharray="10 2 2 2"/>
<path d="M588 325.9Q602.4 322.8 612 314.9Q621.6 308.4 637.2 309.6" fill="none" stroke="#2a2a2a" stroke-width="1.9"/>
<path d="M470.5 182.5 L509.5 175" fill="none" stroke="#2a2a2a" stroke-width="1.3" stroke-dasharray="10 2 2 2"/>
<path d="M484 188.2 L514 181.7" fill="none" stroke="#2a2a2a" stroke-width="1.3" stroke-dasharray="10 2 2 2"/>
<path d="M493 200.5 L517.7 194.5 L562.7 182.5" fill="none" stroke="#2a2a2a" stroke-width="1.3" stroke-dasharray="10 2 2 2"/>
<path d="M533.5 166 L550 173.5" fill="none" stroke="#2a2a2a" stroke-width="1.3" stroke-dasharray="10 2 2 2"/>
<path d="M533.5 176.8 L550 182.8" fill="none" stroke="#2a2a2a" stroke-width="1.3" stroke-dasharray="10 2 2 2"/>
<!-- oven lamp 5511 -->
<path d="M196.7 214.7L265.7 214.7Q267.2 214.7 267.2 216.2L267.2 273.2Q267.2 274.7 265.7 274.7L196.7 274.7Q195.2 274.7 195.2 273.2L195.2 216.2Q195.2 214.7 196.7 214.7Z" fill="none" stroke="#2a2a2a" stroke-width="1.5" stroke-dasharray="10 2 2 2"/>
<path d="M233 225.5L241.6 223.1Q245.1 225.1 244.7 229L243.9 231.3L233.4 233.6" fill="#fff" stroke="#2a2a2a" stroke-width="1.7"/>
<path d="M238.4 223.9 L238.8 232.5" fill="none" stroke="#2a2a2a" stroke-width="1.3"/>
<path d="M241.2 223.4 L241.6 231.9" fill="none" stroke="#2a2a2a" stroke-width="1.3"/>
<circle cx="226.7" cy="229.7" r="7.8" fill="#fff" stroke="#2a2a2a" stroke-width="1.8"/>
<path d="M202 296.8L270.2 278.8L298 279.5Q301.7 280 301.7 283.7L301.7 307L220 328.3L202 328.3Z" fill="none" stroke="#2a2a2a" stroke-width="1.5" stroke-dasharray="10 2 2 2"/>
<ellipse cx="219.3" cy="310.2" rx="9.8" ry="10.4" fill="#fff" stroke="#2a2a2a" stroke-width="1.8" transform="rotate(-15 219.3 310.2)"/>
<ellipse cx="216.7" cy="311.3" rx="8.4" ry="9.6" fill="#fff" stroke="#2a2a2a" stroke-width="1.9" transform="rotate(-15 216.7 311.3)"/>
<circle cx="212.5" cy="312.2" r="1.2" fill="none" stroke="#2a2a2a" stroke-width="1.3"/>
<path d="M224.8 303.2 L227.5 302.5" fill="none" stroke="#2a2a2a" stroke-width="1.3"/>
<path d="M224.8 306.2 L227.5 305.5" fill="none" stroke="#2a2a2a" stroke-width="1.3"/>
<path d="M224.8 309.2 L227.5 308.5" fill="none" stroke="#2a2a2a" stroke-width="1.3"/>
<path d="M224.8 312.2 L227.5 311.5" fill="none" stroke="#2a2a2a" stroke-width="1.3"/>
<path d="M224.8 314.9 L227.5 314.2" fill="none" stroke="#2a2a2a" stroke-width="1.3"/>
<path d="M247.7 299.9L256 297.6Q259.4 299.5 259 303.2L258.2 305.5L248.1 307.7" fill="#fff" stroke="#2a2a2a" stroke-width="1.7"/>
<path d="M253 298.4 L253.4 306.6" fill="none" stroke="#2a2a2a" stroke-width="1.3"/>
<path d="M255.6 297.8 L256 306" fill="none" stroke="#2a2a2a" stroke-width="1.3"/>
<circle cx="241.7" cy="304" r="7.5" fill="#fff" stroke="#2a2a2a" stroke-width="1.8"/>
<path d="M280 286.7L289 286.7Q295 289 294.2 295L286 301" fill="#fff" stroke="#2a2a2a" stroke-width="1.8"/>
<path d="M288.2 287.2 L289 298" fill="none" stroke="#2a2a2a" stroke-width="1.3"/>
<ellipse cx="279" cy="296.2" rx="7.5" ry="11" fill="#fff" stroke="#2a2a2a" stroke-width="2" transform="rotate(-20 279 296.2)"/>
<ellipse cx="274" cy="297.2" rx="8.2" ry="11.4" fill="#fff" stroke="#2a2a2a" stroke-width="2.6" transform="rotate(-20 274 297.2)"/>
<ellipse cx="275" cy="297.7" rx="5.2" ry="8" fill="none" stroke="#2a2a2a" stroke-width="1.7" transform="rotate(-20 275 297.7)"/>
<ellipse cx="276.5" cy="298.7" rx="2.6" ry="5" fill="none" stroke="#2a2a2a" stroke-width="1.3" transform="rotate(-20 276.5 298.7)"/>
<path d="M295 291.2 L317.5 285.2 L317.5 419.5" fill="none" stroke="#2a2a2a" stroke-width="1.4" stroke-dasharray="10 2 2 2"/>
<path d="M320 296.2 L340 303.8 L340 336.2 L320 328Z" fill="none" stroke="#2a2a2a" stroke-width="1.2"/>
<path d="M340 336.2 L340 355" fill="none" stroke="#2a2a2a" stroke-width="1.2"/>
<!-- phantom assembly lines between top plate and cavity -->
<path d="M345.6 104 L345.6 395" fill="none" stroke="#2a2a2a" stroke-width="1.5" stroke-dasharray="10 2 2 2"/>
<path d="M352 106 L352 396" fill="none" stroke="#2a2a2a" stroke-width="1.5" stroke-dasharray="10 2 2 2"/>
<path d="M358.4 109 L358.4 398" fill="none" stroke="#2a2a2a" stroke-width="1.5" stroke-dasharray="10 2 2 2"/>
<path d="M430.4 136 L430.4 424" fill="none" stroke="#2a2a2a" stroke-width="1.5" stroke-dasharray="10 2 2 2"/>
<path d="M436.8 138 L436.8 426" fill="none" stroke="#2a2a2a" stroke-width="1.5" stroke-dasharray="10 2 2 2"/>
<path d="M443.2 140 L443.2 428" fill="none" stroke="#2a2a2a" stroke-width="1.5" stroke-dasharray="10 2 2 2"/>
<path d="M406.4 287 L406.4 410" fill="none" stroke="#2a2a2a" stroke-width="1.5" stroke-dasharray="10 2 2 2"/>
<path d="M419.2 296 L419.2 412" fill="none" stroke="#2a2a2a" stroke-width="1.5" stroke-dasharray="10 2 2 2"/>
<path d="M491.5 163 L491.5 392" fill="none" stroke="#2a2a2a" stroke-width="1.5" stroke-dasharray="10 2 2 2"/>
<path d="M476 357 L476 386" fill="none" stroke="#2a2a2a" stroke-width="1.5" stroke-dasharray="10 2 2 2"/>
<path d="M358.4 285.2 L459.2 322.8" fill="none" stroke="#2a2a2a" stroke-width="1.4" stroke-dasharray="10 2 2 2"/>
<path d="M461.6 346.8 L476 354 L476 359.6" fill="none" stroke="#2a2a2a" stroke-width="1.4" stroke-dasharray="10 2 2 2"/>
<path d="M406.4 288.4 L409.6 286" fill="none" stroke="#2a2a2a" stroke-width="1.3" stroke-dasharray="10 2 2 2"/>
<path d="M354 281.5 L475 250 L476 255 L355 287Z" fill="#fff" stroke="#2a2a2a" stroke-width="1.4"/>
<path d="M355 283.2 L475 252" fill="none" stroke="#2a2a2a" stroke-width="3.6"/>
<path d="M354 280 L354 288" fill="none" stroke="#2a2a2a" stroke-width="2"/>
<path d="M340 294.8 L352 296.4 L352.8 302 L357.6 306.8 L356 310 L352.8 309.2 L353.6 318.8 L352.8 329.2 L348.8 331.6 L347.2 329.2 L348 315.6 L344 310 L344 300.4 L340 298.8Z" fill="#4a4a4a" stroke="#2a2a2a" stroke-width="1.8"/>
<path d="M346.4 299.6 L350.4 300.4 L350.4 306 L346.4 305.2Z" fill="#fff" stroke="#2a2a2a" stroke-width="1"/>
<path d="M349.3 317.2 L351.5 317.2 L351.2 327.6 L349.3 328.4Z" fill="#fff" stroke="#2a2a2a" stroke-width="1"/>
<path d="M355.2 301.2 L356 314" fill="none" stroke="#2a2a2a" stroke-width="1.5"/>
<path d="M445.6 335.9 L457.6 337.5 L458.4 343.1 L463.2 347.9 L461.6 351.1 L458.4 350.3 L459.2 359.9 L458.4 370.3 L454.4 372.7 L452.8 370.3 L453.6 356.7 L449.6 351.1 L449.6 341.5 L445.6 339.9Z" fill="#4a4a4a" stroke="#2a2a2a" stroke-width="1.8"/>
<path d="M452 340.7 L456 341.5 L456 347.1 L452 346.3Z" fill="#fff" stroke="#2a2a2a" stroke-width="1"/>
<path d="M454.9 358.3 L457.1 358.3 L456.8 368.7 L454.9 369.5Z" fill="#fff" stroke="#2a2a2a" stroke-width="1"/>
<path d="M460.8 342.3 L461.6 355.1" fill="none" stroke="#2a2a2a" stroke-width="1.5"/>
<path d="M409.6 285.2 L432 291.6 L438.4 286 L436.8 295.6 L430.4 297.2 L412 293.2Z" fill="#fff" stroke="#2a2a2a" stroke-width="1.7"/>
<path d="M410.4 287.3 L430.4 293.2" fill="none" stroke="#2a2a2a" stroke-width="3.1" stroke-dasharray="2 1.5"/>
<path d="M412.8 290.8 L428.8 295.3" fill="none" stroke="#2a2a2a" stroke-width="2.6" stroke-dasharray="2 1.5"/>
<path d="M432 291.6 L435.2 289.2 L436 294" fill="none" stroke="#2a2a2a" stroke-width="1.7"/>
<path d="M440 283.6 L441.6 279.6 L449.6 270" fill="none" stroke="#2a2a2a" stroke-width="1.8"/>
<!-- right-hand electrical parts -->
<path d="M705.2 401.1 L820.9 381.6" fill="none" stroke="#2a2a2a" stroke-width="1.4" stroke-dasharray="10 2 2 2"/>
<path d="M705.2 411.5 L785.8 395.9" fill="none" stroke="#2a2a2a" stroke-width="1.4" stroke-dasharray="10 2 2 2"/>
<path d="M705.2 425.8 L767.6 415.4" fill="none" stroke="#2a2a2a" stroke-width="1.4" stroke-dasharray="10 2 2 2"/>
<path d="M705.2 444 L884.6 402.4" fill="none" stroke="#2a2a2a" stroke-width="1.4" stroke-dasharray="10 2 2 2"/>
<path d="M705.2 475.2 L814.4 445.3" fill="none" stroke="#2a2a2a" stroke-width="1.4" stroke-dasharray="10 2 2 2"/>
<path d="M705.2 528.5 L783.2 506.4" fill="none" stroke="#2a2a2a" stroke-width="1.4" stroke-dasharray="10 2 2 2"/>
<path d="M761.1 522 L835.2 503.8 L850.3 506.4" fill="none" stroke="#2a2a2a" stroke-width="1.4" stroke-dasharray="10 2 2 2"/>
<path d="M817 395.9 L845.6 390.7" fill="none" stroke="#2a2a2a" stroke-width="1.4" stroke-dasharray="10 2 2 2"/>
<path d="M817 402.4 L845.6 397.2" fill="none" stroke="#2a2a2a" stroke-width="1.4" stroke-dasharray="10 2 2 2"/>
<path d="M835.2 431 L897.6 411.5 L883.3 405" fill="none" stroke="#2a2a2a" stroke-width="1.4" stroke-dasharray="10 2 2 2"/>
<path d="M811.8 446.6 L822.2 459.6 L806.6 464.8" fill="none" stroke="#2a2a2a" stroke-width="1.4" stroke-dasharray="10 2 2 2"/>
<path d="M835.2 503.8 L841.7 509" fill="none" stroke="#2a2a2a" stroke-width="1.4" stroke-dasharray="10 2 2 2"/>
<path d="M785.8 395.9 L789.7 390.7 L798.8 388.1" fill="none" stroke="#2a2a2a" stroke-width="1.4" stroke-dasharray="10 2 2 2"/>
<path d="M736.4 434.9 L711.7 429.7" fill="none" stroke="#2a2a2a" stroke-width="1.4" stroke-dasharray="10 2 2 2"/>
<path d="M707.8 470 L739 463.5" fill="none" stroke="#2a2a2a" stroke-width="1.4" stroke-dasharray="10 2 2 2"/>
<ellipse cx="729.9" cy="406.8" rx="9.2" ry="11.8" fill="#fff" stroke="#2a2a2a" stroke-width="2" transform="rotate(-12 729.9 406.8)"/>
<ellipse cx="729.9" cy="406.8" rx="7.2" ry="9.6" fill="none" stroke="#2a2a2a" stroke-width="1.3" transform="rotate(-12 729.9 406.8)"/>
<path d="M732.1 406.8L738.5 406.8M731.9 407.9L737.8 411M731.5 408.8L736 414.6M730.7 409.4L733.2 417M729.9 409.6L729.9 417.8M729.1 409.4L726.6 417M728.3 408.8L723.8 414.6M727.9 407.9L722 411M727.7 406.8L721.3 406.8M727.9 405.8L722 402.6M728.3 404.8L723.8 399M729.1 404.2L726.6 396.7M729.9 404L729.9 395.8M730.7 404.2L733.2 396.7M731.5 404.8L736 399M731.9 405.8L737.8 402.6" fill="none" stroke="#2a2a2a" stroke-width="1.5"/>
<ellipse cx="729.9" cy="406.8" rx="2.4" ry="3" fill="#333" stroke="#2a2a2a" stroke-width="1.3" transform="rotate(-12 729.9 406.8)"/>
<path d="M761.1 384.2Q766.3 382.9 768.1 389.4Q769.7 398.5 775.4 403.7Q779.3 401.1 779.3 393.3L784.5 392Q785.8 403.7 780.6 408.1Q776.7 411.5 772.8 410.2Q765 402.4 763.7 392Z" fill="#fff" stroke="#2a2a2a" stroke-width="2"/>
<path d="M764.5 386.8Q767.1 399.8 774.1 407.1M781.9 393.3Q782.7 402.4 778 407.1" fill="none" stroke="#2a2a2a" stroke-width="1.3"/>
<circle cx="762.4" cy="384.7" r="2" fill="#2a2a2a" stroke="#2a2a2a" stroke-width="1.3"/>
<circle cx="782.7" cy="391.5" r="1.8" fill="#2a2a2a" stroke="#2a2a2a" stroke-width="1.3"/>
<circle cx="772.3" cy="410.2" r="2" fill="#2a2a2a" stroke="#2a2a2a" stroke-width="1.3"/>
<path d="M785.8 395.9 L789.7 405 L796.2 389.4" fill="none" stroke="#2a2a2a" stroke-width="1.2"/>
<circle cx="798.8" cy="374.3" r="2.1" fill="#2a2a2a"/><line x1="798.8" y1="374.3" x2="804" y2="372.4" stroke="#2a2a2a" stroke-width="2.8" stroke-dasharray="1.4 0.6"/>
<circle cx="848.2" cy="375.6" r="2.3" fill="none" stroke="#2a2a2a" stroke-width="2"/>
<circle cx="821.7" cy="382.1" r="2.1" fill="#2a2a2a"/><line x1="821.7" y1="382.1" x2="827.1" y2="381.2" stroke="#2a2a2a" stroke-width="2.8" stroke-dasharray="1.4 0.6"/>
<path d="M827.4 364.7 L837.8 362.9 L843.5 367.3 L843.5 382.9 L833.9 384.7 L827.4 380.3Z" fill="#fff" stroke="#2a2a2a" stroke-width="1.9"/>
<path d="M830 368.1 L837.3 366.8 L837.3 379 L830 379Z" fill="#555" stroke="#2a2a2a" stroke-width="2"/>
<path d="M832.1 369.9 L835.2 369.4 L835.2 376.4 L832.1 376.9Z" fill="#eee" stroke="#2a2a2a" stroke-width="0.8"/>
<path d="M839.9 368.6 L840.4 381.6" fill="none" stroke="#2a2a2a" stroke-width="1.8"/>
<path d="M828.7 381.6 L828.7 386.3" fill="none" stroke="#2a2a2a" stroke-width="2"/>
<path d="M841.7 390.7 L846.9 389.4 L848.2 394.6 L843 395.9Z" fill="#444" stroke="#2a2a2a" stroke-width="1.7"/>
<path d="M848.2 392Q866.4 394.6 882 391.5" fill="none" stroke="#2a2a2a" stroke-width="1.3"/>
<circle cx="860.7" cy="385.8" r="2.1" fill="#2a2a2a"/><line x1="860.7" y1="385.8" x2="854.6" y2="388" stroke="#2a2a2a" stroke-width="2.8" stroke-dasharray="1.4 0.6"/>
<path d="M806.6 409.4 L835 419.3 L837 423 L837 449.5 L827.2 448.2" fill="#fff" stroke="#2a2a2a" stroke-width="1.5"/>
<path d="M801.9 411.5 L827.2 419.8 L827.2 448.2 L801.9 439.9Z" fill="#fff" stroke="#2a2a2a" stroke-width="2.8"/>
<path d="M814.6 415.7 L814.6 444.1" fill="none" stroke="#2a2a2a" stroke-width="3.1"/>
<path d="M801.9 425.3 L827.2 433.7" fill="none" stroke="#2a2a2a" stroke-width="3.1"/>
<path d="M804 415.1 L811.8 417.7 L811.8 425 L804 422.4Z" fill="none" stroke="#2a2a2a" stroke-width="1.3"/>
<path d="M816.6 419.3 L824.4 421.9 L824.4 429.2 L816.6 426.6Z" fill="none" stroke="#2a2a2a" stroke-width="1.3"/>
<path d="M804 428.5 L811.8 431.1 L811.8 438.3 L804 435.7Z" fill="none" stroke="#2a2a2a" stroke-width="1.3"/>
<path d="M816.6 432.6 L824.4 435.2 L824.4 442.5 L816.6 439.9Z" fill="none" stroke="#2a2a2a" stroke-width="1.3"/>
<path d="M799.8 414.1 L803 415.1" fill="none" stroke="#2a2a2a" stroke-width="3.1"/>
<path d="M799.8 427.1 L803 428.1" fill="none" stroke="#2a2a2a" stroke-width="3.1"/>
<path d="M799.8 436.2 L803 437.2" fill="none" stroke="#2a2a2a" stroke-width="3.1"/>
<path d="M804.5 440.4 L807.6 441.5" fill="none" stroke="#2a2a2a" stroke-width="3.1"/>
<path d="M812.3 443 L815.4 444.1" fill="none" stroke="#2a2a2a" stroke-width="3.1"/>
<path d="M824 447.2 L827.1 448.2" fill="none" stroke="#2a2a2a" stroke-width="3.1"/>
<path d="M807.1 409.9 L810.2 411" fill="none" stroke="#2a2a2a" stroke-width="3.1"/>
<path d="M816.2 413.6 L819.3 414.6" fill="none" stroke="#2a2a2a" stroke-width="3.1"/>
<path d="M825.3 417.2 L828.4 418.3" fill="none" stroke="#2a2a2a" stroke-width="3.1"/>
<path d="M826.7 430.2 L829.8 431.3" fill="none" stroke="#2a2a2a" stroke-width="3.1"/>
<path d="M826.7 441.9 L829.8 443" fill="none" stroke="#2a2a2a" stroke-width="3.1"/>
<path d="M744.2 461.4 L772.6 471.3 L774.6 475 L774.6 501.5 L764.8 500.2" fill="#fff" stroke="#2a2a2a" stroke-width="1.5"/>
<path d="M739.5 463.5 L764.8 471.8 L764.8 500.2 L739.5 491.9Z" fill="#fff" stroke="#2a2a2a" stroke-width="2.8"/>
<path d="M752.2 467.7 L752.2 496.1" fill="none" stroke="#2a2a2a" stroke-width="3.1"/>
<path d="M739.5 477.3 L764.8 485.7" fill="none" stroke="#2a2a2a" stroke-width="3.1"/>
<path d="M741.6 467.1 L749.4 469.7 L749.4 477 L741.6 474.4Z" fill="none" stroke="#2a2a2a" stroke-width="1.3"/>
<path d="M754.2 471.3 L762 473.9 L762 481.2 L754.2 478.6Z" fill="none" stroke="#2a2a2a" stroke-width="1.3"/>
<path d="M741.6 480.5 L749.4 483.1 L749.4 490.3 L741.6 487.7Z" fill="none" stroke="#2a2a2a" stroke-width="1.3"/>
<path d="M754.2 484.6 L762 487.2 L762 494.5 L754.2 491.9Z" fill="none" stroke="#2a2a2a" stroke-width="1.3"/>
<path d="M737.4 466.1 L740.6 467.1" fill="none" stroke="#2a2a2a" stroke-width="3.1"/>
<path d="M737.4 479.1 L740.6 480.1" fill="none" stroke="#2a2a2a" stroke-width="3.1"/>
<path d="M737.4 488.2 L740.6 489.2" fill="none" stroke="#2a2a2a" stroke-width="3.1"/>
<path d="M742.1 492.4 L745.2 493.5" fill="none" stroke="#2a2a2a" stroke-width="3.1"/>
<path d="M749.9 495 L753 496.1" fill="none" stroke="#2a2a2a" stroke-width="3.1"/>
<path d="M761.6 499.2 L764.7 500.2" fill="none" stroke="#2a2a2a" stroke-width="3.1"/>
<path d="M744.7 461.9 L747.8 463" fill="none" stroke="#2a2a2a" stroke-width="3.1"/>
<path d="M753.8 465.6 L756.9 466.6" fill="none" stroke="#2a2a2a" stroke-width="3.1"/>
<path d="M762.9 469.2 L766 470.3" fill="none" stroke="#2a2a2a" stroke-width="3.1"/>
<path d="M764.3 482.2 L767.4 483.3" fill="none" stroke="#2a2a2a" stroke-width="3.1"/>
<path d="M764.3 493.9 L767.4 495" fill="none" stroke="#2a2a2a" stroke-width="3.1"/>
<g filter="url(#b1)">
<path d="M861.2 408.1 L886.7 415.9 L885.9 425.3 L862.5 416.7Z" fill="#909090" stroke="none" stroke-width="0"/>
<path d="M869 412.8 L882 417.5" fill="none" stroke="#555" stroke-width="1.8"/>
<path d="M781.1 455.7 L807.1 464.8 L806.6 482.5 L781.9 472.6Z" fill="#666" stroke="none" stroke-width="0"/>
<path d="M785.8 463.5 L802.7 470" fill="none" stroke="#444" stroke-width="2.6"/>
</g>
<path d="M719.5 457 L724.7 457.5 L724.7 475.2 L719.5 475.2Z" fill="#fff" stroke="#2a2a2a" stroke-width="1.7"/>
<path d="M718.2 462.2 L726 462.7" fill="none" stroke="#2a2a2a" stroke-width="2.6"/>
<path d="M718.2 470 L726 470" fill="none" stroke="#2a2a2a" stroke-width="2.6"/>
<circle cx="733.3" cy="464.8" r="2.1" fill="#2a2a2a"/><line x1="733.3" y1="464.8" x2="727.9" y2="463.8" stroke="#2a2a2a" stroke-width="2.8" stroke-dasharray="1.4 0.6"/>
<circle cx="736.4" cy="435.2" r="2.1" fill="#2a2a2a"/><line x1="736.4" y1="435.2" x2="731" y2="434.2" stroke="#2a2a2a" stroke-width="2.8" stroke-dasharray="1.4 0.6"/>
<circle cx="783.2" cy="506.4" r="2.1" fill="#2a2a2a"/><line x1="783.2" y1="506.4" x2="777.9" y2="507.8" stroke="#2a2a2a" stroke-width="2.8" stroke-dasharray="1.4 0.6"/>
<circle cx="851.3" cy="506.4" r="2.1" fill="#2a2a2a"/><line x1="851.3" y1="506.4" x2="856.6" y2="505" stroke="#2a2a2a" stroke-width="2.8" stroke-dasharray="1.4 0.6"/>
<circle cx="812.3" cy="447.1" r="2.1" fill="#2a2a2a"/><line x1="812.3" y1="447.1" x2="807" y2="448.5" stroke="#2a2a2a" stroke-width="2.8" stroke-dasharray="1.4 0.6"/>
<path d="M804.5 507.7 L811.3 504.3 L827.4 510.3 L826.9 519.4 L820.1 520.7 L804.5 513.7Z" fill="#fff" stroke="#2a2a2a" stroke-width="1.9"/>
<path d="M811.3 504.3 L811.8 511.6 L826.9 517.3" fill="none" stroke="#2a2a2a" stroke-width="1.3"/>
<path d="M815.7 510.3 L822.2 512.6 L822.2 516.8 L815.7 514.7Z" fill="#555" stroke="#2a2a2a" stroke-width="1.5"/>
<path d="M742.9 517.3 L749.4 515.8 L774.1 525.1 L774.1 550.1 L768.1 551.1 L742.9 541.5Z" fill="#fff" stroke="#2a2a2a" stroke-width="2"/>
<path d="M746.3 520.7 L770.7 529.3 L770.7 546.7 L746.3 538.1Z" fill="none" stroke="#2a2a2a" stroke-width="1.3"/>
<path d="M774.1 527.7 L788.4 523.3 L788.9 545.4 L774.1 550.1" fill="none" stroke="#2a2a2a" stroke-width="1.5"/>
<path d="M777.5 527.7 L777.5 547.5" fill="none" stroke="#2a2a2a" stroke-width="1.7"/>
<path d="M779.8 526.9 L779.8 546.7" fill="none" stroke="#2a2a2a" stroke-width="1.7"/>
<path d="M782.2 526.2 L782.2 545.9" fill="none" stroke="#2a2a2a" stroke-width="1.7"/>
<path d="M784.5 525.4 L784.5 545.1" fill="none" stroke="#2a2a2a" stroke-width="1.7"/>
<path d="M786.8 524.6 L786.8 544.4" fill="none" stroke="#2a2a2a" stroke-width="1.7"/>
<path d="M752 525.9 L755.9 532.4" fill="none" stroke="#2a2a2a" stroke-width="2.3"/>
<path d="M757.7 528.5 L762.4 529.8" fill="none" stroke="#2a2a2a" stroke-width="2.3"/>
<path d="M759.8 532.4 L760.3 537.6" fill="none" stroke="#2a2a2a" stroke-width="2.3"/>
<path d="M753.3 538.9 L758.5 540.7" fill="none" stroke="#2a2a2a" stroke-width="2.3"/>
<path d="M763.7 535 L766.3 541.5" fill="none" stroke="#2a2a2a" stroke-width="2.3"/>
<path d="M741.6 519.4 L744.2 520.2" fill="none" stroke="#2a2a2a" stroke-width="3.1"/>
<path d="M741.6 532.4 L744.2 533.2" fill="none" stroke="#2a2a2a" stroke-width="3.1"/>
<path d="M741.6 542.8 L744.2 543.6" fill="none" stroke="#2a2a2a" stroke-width="3.1"/>
<path d="M755.9 548 L758.5 548.8" fill="none" stroke="#2a2a2a" stroke-width="3.1"/>
<path d="M768.1 551.9 L770.7 552.7" fill="none" stroke="#2a2a2a" stroke-width="3.1"/>
<!-- top rear trim 3024 with rail 3093 -->
<path d="M648.1 35.2 L653.5 28 L796.6 81.1 L793 85.2 L779.5 92.4 L648.1 38.8Z" fill="#fff" stroke="#2a2a2a" stroke-width="1.9"/>
<path d="M653.5 28 L655.3 32.5 L784 84.2 L779.5 92.4" fill="none" stroke="#2a2a2a" stroke-width="1.4"/>
<path d="M784 84.2 L796.6 81.1" fill="none" stroke="#2a2a2a" stroke-width="1.4"/>
<path d="M655.3 32.5 L648.1 37" fill="none" stroke="#2a2a2a" stroke-width="1.2"/>
<path d="M657.1 31.2 L791.2 81.1" fill="none" stroke="#2a2a2a" stroke-width="3.1"/>
<path d="M650.8 37.9 L778.6 90.1" fill="none" stroke="#2a2a2a" stroke-width="2"/>
<path d="M658.9 35.2 L667 38.5 L666.3 42.5 L658.2 39.2Z" fill="none" stroke="#2a2a2a" stroke-width="1.8"/>
<path d="M670.6 39.7 L679.6 43.4 L678.9 47.3 L669.9 43.7Z" fill="none" stroke="#2a2a2a" stroke-width="1.8"/>
<path d="M683.2 45.1 L691.3 48.4 L690.6 52.4 L682.5 49.1Z" fill="none" stroke="#2a2a2a" stroke-width="1.8"/>
<path d="M694.9 50 L703 53.3 L702.3 57.2 L694.2 53.9Z" fill="none" stroke="#2a2a2a" stroke-width="1.8"/>
<path d="M706.6 54.6 L725.5 62.4 L724.8 66.3 L705.9 58.6Z" fill="none" stroke="#2a2a2a" stroke-width="1.8"/>
<path d="M730 64 L748.9 71.7 L748.2 75.7 L729.3 68Z" fill="none" stroke="#2a2a2a" stroke-width="1.8"/>
<path d="M752.5 73.4 L761.5 77 L760.8 81 L751.8 77.3Z" fill="none" stroke="#2a2a2a" stroke-width="1.8"/>
<path d="M765.1 78.4 L774.1 82.1 L773.4 86 L764.4 82.4Z" fill="none" stroke="#2a2a2a" stroke-width="1.8"/>
<path d="M691.3 57.2 L699.4 60.4 L699.4 62.2 L691.3 59Z" fill="#555" stroke="#2a2a2a" stroke-width="1.5"/>
<path d="M727.3 72.1 L735.4 75.3 L735.4 77.1 L727.3 73.9Z" fill="#555" stroke="#2a2a2a" stroke-width="1.5"/>
<path d="M670.6 23 L675.1 22.2 L798.4 73 L799.3 79.3 L794.8 78.4 L671.5 28Z" fill="#fff" stroke="#2a2a2a" stroke-width="1.8"/>
<path d="M673.3 25.3 L796.6 75.7" fill="none" stroke="#2a2a2a" stroke-width="3.3"/>
<path d="M685.9 26.6 L699.4 38.8 L711.1 38.4" fill="none" stroke="#2a2a2a" stroke-width="1.5"/>
<path d="M737.2 51.8 L748 60.4 L762.4 59" fill="none" stroke="#2a2a2a" stroke-width="1.5"/>
<path d="M755.2 57.7 L764.2 61.3" fill="none" stroke="#2a2a2a" stroke-width="2.6"/>
<path d="M699.4 37 L712 41.5" fill="none" stroke="#2a2a2a" stroke-width="2.6"/>
<path d="M795.7 73 L796.6 82" fill="none" stroke="#2a2a2a" stroke-width="2.6"/>
<path d="M688.6 25.3 L766 54.1 L809.2 76.6 L807.4 79.3 L798.4 78" fill="none" stroke="#2a2a2a" stroke-width="1.4" stroke-dasharray="10 2 2 2"/>
<path d="M676.9 27.1 L701.2 19.9" fill="none" stroke="#2a2a2a" stroke-width="1.3" stroke-dasharray="10 2 2 2"/>
<circle cx="703.9" cy="18.6" r="2.1" fill="#2a2a2a"/><line x1="703.9" y1="18.6" x2="697.8" y2="20.9" stroke="#2a2a2a" stroke-width="2.8" stroke-dasharray="1.4 0.6"/>
<circle cx="750.7" cy="87.8" r="2.1" fill="#2a2a2a"/><line x1="750.7" y1="87.8" x2="744.6" y2="90" stroke="#2a2a2a" stroke-width="2.8" stroke-dasharray="1.4 0.6"/>
<!-- hinge bars, nuts and small hardware left of the cavity -->
<path d="M276.2 406.4 L328 393.8" fill="none" stroke="#2a2a2a" stroke-width="1.4" stroke-dasharray="10 2 2 2"/>
<path d="M302.2 383.2 L328 391" fill="none" stroke="#2a2a2a" stroke-width="1.4" stroke-dasharray="10 2 2 2"/>
<path d="M309.8 441.4 L328 437.2" fill="none" stroke="#2a2a2a" stroke-width="1.4" stroke-dasharray="10 2 2 2"/>
<path d="M258 465.2 L328 453.5" fill="none" stroke="#2a2a2a" stroke-width="1.4" stroke-dasharray="10 2 2 2"/>
<path d="M258 484.8 L328 469.7" fill="none" stroke="#2a2a2a" stroke-width="1.4" stroke-dasharray="10 2 2 2"/>
<path d="M258 465.2 L290.2 482" fill="none" stroke="#2a2a2a" stroke-width="1.4" stroke-dasharray="10 2 2 2"/>
<path d="M258 484.8 L290.2 501.6" fill="none" stroke="#2a2a2a" stroke-width="1.4" stroke-dasharray="10 2 2 2"/>
<path d="M230 538 L330.8 514.2" fill="none" stroke="#2a2a2a" stroke-width="1.4" stroke-dasharray="10 2 2 2"/>
<path d="M230 554.8 L314 535.2 L389.6 517" fill="none" stroke="#2a2a2a" stroke-width="1.4" stroke-dasharray="10 2 2 2"/>
<path d="M230 573 L386.8 538" fill="none" stroke="#2a2a2a" stroke-width="1.4" stroke-dasharray="10 2 2 2"/>
<path d="M314 535.2 L314 522.6" fill="none" stroke="#2a2a2a" stroke-width="1.4" stroke-dasharray="10 2 2 2"/>
<path d="M319.1 503.9 L328 501.6" fill="none" stroke="#2a2a2a" stroke-width="1.4" stroke-dasharray="10 2 2 2"/>
<path d="M293.8 530.2 L311.2 526.8" fill="none" stroke="#2a2a2a" stroke-width="1.4" stroke-dasharray="10 2 2 2"/>
<path d="M389.6 557.1 L426 549.2" fill="none" stroke="#2a2a2a" stroke-width="1.4" stroke-dasharray="10 2 2 2"/>
<path d="M398 587 L398 566 L429.9 558.2" fill="none" stroke="#2a2a2a" stroke-width="1.4" stroke-dasharray="10 2 2 2"/>
<path d="M389.1 587 L405 583.4" fill="none" stroke="#2a2a2a" stroke-width="1.4" stroke-dasharray="10 2 2 2"/>
<path d="M370 580 L386.8 575.8" fill="none" stroke="#2a2a2a" stroke-width="1.4" stroke-dasharray="10 2 2 2"/>
<path d="M412 561.3 L429.9 557.1" fill="none" stroke="#2a2a2a" stroke-width="1.4" stroke-dasharray="10 2 2 2"/>
<path d="M392.4 517 L392.4 582.8" fill="none" stroke="#2a2a2a" stroke-width="1.4" stroke-dasharray="10 2 2 2"/>
<path d="M230 515.6 L349 487.1" fill="none" stroke="#2a2a2a" stroke-width="2.8" stroke-dasharray="9 3 2 3"/>
<rect x="287.4" y="431.6" width="5.6" height="70" fill="#fff" stroke="#2a2a2a" stroke-width="1.7" rx="1.6"/>
<line x1="290.2" y1="439.6" x2="290.2" y2="470.1" stroke="#2a2a2a" stroke-width="2.3" stroke-dasharray="1.2 1"/>
<circle cx="290.2" cy="435.1" r="0.7" fill="none" stroke="#2a2a2a" stroke-width="1.2"/>
<circle cx="290.2" cy="498.1" r="0.7" fill="none" stroke="#2a2a2a" stroke-width="1.2"/>
<rect x="311.2" y="521.2" width="5" height="49" fill="#fff" stroke="#2a2a2a" stroke-width="1.7" rx="1.6"/>
<line x1="313.7" y1="529.2" x2="313.7" y2="548.2" stroke="#2a2a2a" stroke-width="2.3" stroke-dasharray="1.2 1"/>
<circle cx="313.7" cy="524.7" r="0.7" fill="none" stroke="#2a2a2a" stroke-width="1.2"/>
<circle cx="313.7" cy="566.7" r="0.7" fill="none" stroke="#2a2a2a" stroke-width="1.2"/>
<rect x="404.2" y="578.6" width="5.6" height="50.4" fill="#fff" stroke="#2a2a2a" stroke-width="1.7" rx="1.6"/>
<line x1="407" y1="586.6" x2="407" y2="606.3" stroke="#2a2a2a" stroke-width="2.3" stroke-dasharray="1.2 1"/>
<circle cx="407" cy="582.1" r="0.7" fill="none" stroke="#2a2a2a" stroke-width="1.2"/>
<circle cx="407" cy="625.5" r="0.7" fill="none" stroke="#2a2a2a" stroke-width="1.2"/>
<circle cx="302.2" cy="382.6" r="2.3" fill="#333" stroke="#2a2a2a" stroke-width="1.5"/>
<circle cx="301.8" cy="382.3" r="0.8" fill="#ddd" stroke="none" stroke-width="0"/>
<circle cx="309.8" cy="441.4" r="2.3" fill="#333" stroke="#2a2a2a" stroke-width="1.5"/>
<circle cx="309.4" cy="441.1" r="0.8" fill="#ddd" stroke="none" stroke-width="0"/>
<circle cx="321.9" cy="438" r="2.3" fill="#333" stroke="#2a2a2a" stroke-width="1.5"/>
<circle cx="321.5" cy="437.7" r="0.8" fill="#ddd" stroke="none" stroke-width="0"/>
<circle cx="319.1" cy="503.9" r="2.3" fill="#333" stroke="#2a2a2a" stroke-width="1.5"/>
<circle cx="318.7" cy="503.6" r="0.8" fill="#ddd" stroke="none" stroke-width="0"/>
<circle cx="293.8" cy="530.2" r="2.3" fill="#333" stroke="#2a2a2a" stroke-width="1.5"/>
<circle cx="293.4" cy="529.9" r="0.8" fill="#ddd" stroke="none" stroke-width="0"/>
<circle cx="389.6" cy="557.1" r="2.3" fill="#333" stroke="#2a2a2a" stroke-width="1.5"/>
<circle cx="389.2" cy="556.8" r="0.8" fill="#ddd" stroke="none" stroke-width="0"/>
<circle cx="411.5" cy="561.3" r="2.3" fill="#333" stroke="#2a2a2a" stroke-width="1.5"/>
<circle cx="411.1" cy="561" r="0.8" fill="#ddd" stroke="none" stroke-width="0"/>
<circle cx="389.1" cy="587" r="2.3" fill="#333" stroke="#2a2a2a" stroke-width="1.5"/>
<circle cx="388.7" cy="586.7" r="0.8" fill="#ddd" stroke="none" stroke-width="0"/>
<circle cx="317.4" cy="381.2" r="2.1" fill="#2a2a2a"/><line x1="317.4" y1="381.2" x2="321.6" y2="382.7" stroke="#2a2a2a" stroke-width="2.8" stroke-dasharray="1.4 0.6"/>
<path d="M311.2 441.4 L320.2 438.6" fill="none" stroke="#2a2a2a" stroke-width="1.9"/>
<path d="M270.6 405.8 L281.8 403.6 L282.6 407.8 L272 410.6Z" fill="#444" stroke="#2a2a2a" stroke-width="1.7"/>
<path d="M273.4 403.6 L274.8 411.4" fill="none" stroke="#2a2a2a" stroke-width="2"/>
<path d="M278.2 403 L279.3 410.3" fill="none" stroke="#2a2a2a" stroke-width="2"/>
<path d="M349 585.6 L370 579.5" fill="none" stroke="#2a2a2a" stroke-width="3.1" stroke-dasharray="2 1.2"/>
<path d="M363.9 575 L367.8 575.8 L367.8 587 L363.9 586.2Z" fill="#fff" stroke="#2a2a2a" stroke-width="1.5"/>
<path d="M361.6 578.6 L370 579.5" fill="none" stroke="#2a2a2a" stroke-width="2"/>
<path d="M361.6 583.4 L370 584.2" fill="none" stroke="#2a2a2a" stroke-width="2"/>
<!-- bar 5512 and phantom lines below cavity -->
<path d="M460 543.8 L532.5 575 L550 571.2" fill="none" stroke="#2a2a2a" stroke-width="1.4" stroke-dasharray="10 2 2 2"/>
<path d="M460 562.5 L532.5 595 L550 590.5" fill="none" stroke="#2a2a2a" stroke-width="1.4" stroke-dasharray="10 2 2 2"/>
<rect x="550" y="546.2" width="7" height="70" fill="#fff" stroke="#2a2a2a" stroke-width="1.7"/>
<line x1="553.5" y1="548.8" x2="553.5" y2="598.8" stroke="#2a2a2a" stroke-width="2.6" stroke-dasharray="3 1.5 1 1.5"/>
<line x1="550" y1="604" x2="557" y2="604" stroke="#2a2a2a" stroke-width="1.3"/>
<!-- 5006 seal and mesh, 5502 thermostat -->
<path d="M547.5 391.2 L560 395 L561.2 406.2 L549.5 403Z" fill="#fff" stroke="#2a2a2a" stroke-width="2"/>
<path d="M550 394.5 L558 397 L559 403.8 L551.5 401.5Z" fill="none" stroke="#2a2a2a" stroke-width="1.4"/>
<ellipse cx="541.2" cy="401.8" rx="4.8" ry="5.6" fill="#3a3a3a" stroke="#2a2a2a" stroke-width="1.5"/>
<path d="M527.5 406.2 L570 396.2" fill="none" stroke="#2a2a2a" stroke-width="1.3" stroke-dasharray="10 2 2 2"/>
<path d="M513.8 408.8 L535 403.8" fill="none" stroke="#2a2a2a" stroke-width="1.3" stroke-dasharray="10 2 2 2"/>
<path d="M635 325 L643.8 323 L657.5 329.5 L657 336.2 L647.5 338 L635 331.2Z" fill="#fff" stroke="#2a2a2a" stroke-width="1.8"/>
<path d="M637.5 326.2 L650 332" fill="none" stroke="#2a2a2a" stroke-width="3.1" stroke-dasharray="1.6 1.2"/>
<path d="M637.5 329.5 L648.8 335" fill="none" stroke="#2a2a2a" stroke-width="2.6" stroke-dasharray="1.6 1.2"/>
<path d="M647.5 331.2 L656.2 332.5" fill="none" stroke="#2a2a2a" stroke-width="2"/>
<path d="M657.5 333.8 L672.5 331.2" fill="none" stroke="#2a2a2a" stroke-width="1.3" stroke-dasharray="10 2 2 2"/>
<circle cx="675" cy="330.5" r="2.1" fill="#2a2a2a"/><line x1="675" y1="330.5" x2="669.7" y2="331.9" stroke="#2a2a2a" stroke-width="2.8" stroke-dasharray="1.4 0.6"/>
<circle cx="608" cy="334.5" r="2.1" fill="#2a2a2a"/>
<!-- hinge 8511 with bolts W229 -->
<path d="M658.5 805.6 L692.6 797.6" fill="none" stroke="#2a2a2a" stroke-width="1.5"/>
<path d="M659.2 807.2 L693 799.4" fill="none" stroke="#2a2a2a" stroke-width="1.5"/>
<path d="M676.4 807.5 L696.2 801.5 L703 804.6 L699.1 809.3 L680.9 813.7 L676.1 811.1Z" fill="#fff" stroke="#2a2a2a" stroke-width="1.9"/>
<path d="M678.5 810.6 L694.9 806.7" fill="none" stroke="#333" stroke-width="4.4"/>
<path d="M678 808.8 L696.9 803.6" fill="none" stroke="#2a2a2a" stroke-width="1.3"/>
<path d="M692.3 790.3 L696.5 791.6 L704.7 794.9 L706.1 797.6 L706.1 802 L703 805.9 L696.9 807.2 L692.6 802.3Z" fill="#fff" stroke="#2a2a2a" stroke-width="1.9"/>
<path d="M696.5 791.6 L696.7 802 L703 804.6" fill="none" stroke="#2a2a2a" stroke-width="1.7"/>
<path d="M698.8 794.9 L703.4 796.5 L703.4 801.4 L699.1 800.1Z" fill="none" stroke="#2a2a2a" stroke-width="1.4"/>
<path d="M692.6 794.2 L696.2 795.5" fill="none" stroke="#2a2a2a" stroke-width="2"/>
<path d="M692.6 798.4 L696.5 800.1" fill="none" stroke="#2a2a2a" stroke-width="2"/>
<path d="M678 765.3 L678 782.2" fill="none" stroke="#2a2a2a" stroke-width="3.1" stroke-dasharray="3.2 1.1"/>
<path d="M676.7 764.6 L679.3 764.6" fill="none" stroke="#2a2a2a" stroke-width="2"/>
<path d="M678 782.5 L678 788 L687.4 793.2" fill="none" stroke="#2a2a2a" stroke-width="1.3" stroke-dasharray="10 2 2 2"/>
<path d="M654.1 787.2 L668.9 792.4" fill="none" stroke="#2a2a2a" stroke-width="3.6" stroke-dasharray="2.6 1"/>
<path d="M668.9 792.4 L691 798.4" fill="none" stroke="#2a2a2a" stroke-width="1.3" stroke-dasharray="10 2 2 2"/>
<path d="M650.2 816.3 L665 811.1" fill="none" stroke="#2a2a2a" stroke-width="3.6" stroke-dasharray="2.6 1"/>
<path d="M665 811.1 L676.7 807.9" fill="none" stroke="#2a2a2a" stroke-width="1.3" stroke-dasharray="10 2 2 2"/>
<path d="M659.2 806.2 L663.7 805.1" fill="none" stroke="#2a2a2a" stroke-width="2.8"/>
<!-- door screws -->
<circle cx="150.5" cy="199" r="2.1" fill="#2a2a2a"/><line x1="150.5" y1="199" x2="150.5" y2="193.5" stroke="#2a2a2a" stroke-width="2.8" stroke-dasharray="1.4 0.6"/>
<path d="M188 404 L206 398.5" fill="none" stroke="#2a2a2a" stroke-width="1.3" stroke-dasharray="10 2 2 2"/>
<circle cx="210" cy="397.5" r="2.1" fill="#2a2a2a"/><line x1="210" y1="397.5" x2="204.7" y2="398.9" stroke="#2a2a2a" stroke-width="2.8" stroke-dasharray="1.4 0.6"/>
<circle cx="807.3" cy="566" r="2.1" fill="#2a2a2a"/>
<path d="M843 770 L862 764" fill="none" stroke="#2a2a2a" stroke-width="1.3" stroke-dasharray="10 2 2 2"/>
<circle cx="867.5" cy="762.5" r="2.1" fill="#2a2a2a"/><line x1="867.5" y1="762.5" x2="862.2" y2="763.9" stroke="#2a2a2a" stroke-width="2.8" stroke-dasharray="1.4 0.6"/>
<!-- leader lines -->
<g stroke="#2a2a2a" stroke-width="1.2" fill="none">
<path d="M251 55.6L213.4 46.4"/>
<path d="M251 55.6L203.6 73"/>
<path d="M357 41L357 72.5"/>
<path d="M823.7 52.5L782.5 67.5"/>
<path d="M829.5 88L791 87.5"/>
<path d="M812.5 127.5L798.7 133.7"/>
<path d="M150.5 164L150.5 218"/>
<path d="M68.5 211L68.5 245"/>
<path d="M421 179L447.5 194"/>
<path d="M426 211L479 240"/>
<path d="M400 252L415 285"/>
<path d="M326 269L345 297.5"/>
<path d="M527.5 270L537.5 302.5"/>
<path d="M524 261L474 259"/>
<path d="M571 223.7L587.5 231"/>
<path d="M612.5 207.5L627.5 242.5"/>
<path d="M216 330L216 347.5"/>
<path d="M285 358.7L300 381"/>
<path d="M260 381L275 405"/>
<path d="M433.7 340L450 346"/>
<path d="M653 315.5L638.7 310"/>
<path d="M665 344.5L652.5 336"/>
<path d="M560 380L551 400"/>
<path d="M733.7 375L728.7 396"/>
<path d="M763.7 355L763.7 383.7"/>
<path d="M808.7 355L797.5 373.7"/>
<path d="M847.5 338.7L833.7 367.5"/>
<path d="M862.5 361L848.7 375"/>
<path d="M881 391L850 393.7"/>
<path d="M908.7 427.5L886 421"/>
<path d="M857.5 438.7L836 430"/>
<path d="M758.7 437.5L750 462.5"/>
<path d="M827.5 462.5L807.5 471"/>
<path d="M827.5 490L785 507"/>
<path d="M880 501L851 507"/>
<path d="M846 522.5L825 515"/>
<path d="M752.5 547.5L752.5 559"/>
<path d="M835 556L807.5 565"/>
<path d="M807.3 566L807.3 586"/>
<path d="M861 627L844.5 627"/>
<path d="M655 556L655 579"/>
<path d="M569 608L557 608"/>
<path d="M183.7 467.5L215 547.5"/>
<path d="M167.5 489L226 545"/>
<path d="M230 480L246 520"/>
<path d="M140 510L165 535"/>
<path d="M96 521L152.5 533.7"/>
<path d="M326 540L316 530"/>
<path d="M371 562.5L386 558.7"/>
<path d="M276 577.5L282.5 533.7"/>
<path d="M226 598.7L268.7 532.5"/>
<path d="M360 595L365 586"/>
<path d="M377.5 624.5L403.7 607.5"/>
<path d="M116.5 606L116.5 654"/>
<path d="M182.5 689.5L218.7 689.5"/>
<path d="M129.5 756L129.5 789"/>
<path d="M300.5 930L237.5 930"/>
<path d="M454 817.5L420 802.5"/>
<path d="M534 784L498 770.5"/>
<path d="M656 764.5L678 764.5"/>
<path d="M696 808.7L696 840.5"/>
<path d="M817 860.5L817 883.7"/>
</g>
<!-- part number callouts -->
<g font-family="'Liberation Sans', Arial, sans-serif" font-size="14" font-weight="bold" text-anchor="middle" fill="#222">
<ellipse cx="271.5" cy="56.3" rx="24" ry="8.8" fill="#fff" stroke="#2a2a2a" stroke-width="1.3"/><text x="271.5" y="61.2">3501</text>
<ellipse cx="356.5" cy="33" rx="24" ry="8.8" fill="#fff" stroke="#2a2a2a" stroke-width="1.3"/><text x="356.5" y="37.9">5540</text>
<ellipse cx="847" cy="48" rx="24" ry="8.8" fill="#fff" stroke="#2a2a2a" stroke-width="1.3"/><text x="847" y="52.9">3093</text>
<ellipse cx="854" cy="88.5" rx="24" ry="8.8" fill="#fff" stroke="#2a2a2a" stroke-width="1.3"/><text x="854" y="93.4">3024</text>
<ellipse cx="835.5" cy="121.5" rx="24" ry="8.8" fill="#fff" stroke="#2a2a2a" stroke-width="1.3"/><text x="835.5" y="126.4">3013</text>
<ellipse cx="149.5" cy="155" rx="24" ry="8.8" fill="#fff" stroke="#2a2a2a" stroke-width="1.3"/><text x="149.5" y="159.9">3057</text>
<ellipse cx="68" cy="202" rx="24" ry="8.8" fill="#fff" stroke="#2a2a2a" stroke-width="1.3"/><text x="68" y="206.9">5510</text>
<ellipse cx="397" cy="178" rx="24" ry="8.8" fill="#fff" stroke="#2a2a2a" stroke-width="1.3"/><text x="397" y="182.9">5124</text>
<ellipse cx="402.5" cy="211" rx="24" ry="8.8" fill="#fff" stroke="#2a2a2a" stroke-width="1.3"/><text x="402.5" y="215.9">5501</text>
<ellipse cx="397.5" cy="243.5" rx="24" ry="8.8" fill="#fff" stroke="#2a2a2a" stroke-width="1.3"/><text x="397.5" y="248.4">5063</text>
<ellipse cx="316" cy="260.5" rx="24" ry="8.8" fill="#fff" stroke="#2a2a2a" stroke-width="1.3"/><text x="316" y="265.4">546L</text>
<ellipse cx="548" cy="261" rx="24" ry="8.8" fill="#fff" stroke="#2a2a2a" stroke-width="1.3"/><text x="548" y="265.9">5504</text>
<ellipse cx="547.5" cy="219.5" rx="24" ry="8.8" fill="#fff" stroke="#2a2a2a" stroke-width="1.3"/><text x="547.5" y="224.4">5517</text>
<ellipse cx="605" cy="199" rx="24" ry="8.8" fill="#fff" stroke="#2a2a2a" stroke-width="1.3"/><text x="605" y="203.9">3031</text>
<ellipse cx="216" cy="356.5" rx="24" ry="8.8" fill="#fff" stroke="#2a2a2a" stroke-width="1.3"/><text x="216" y="361.4">5511</text>
<ellipse cx="274" cy="349.5" rx="24" ry="8.8" fill="#fff" stroke="#2a2a2a" stroke-width="1.3"/><text x="274" y="354.4">5535</text>
<ellipse cx="248" cy="372" rx="24" ry="8.8" fill="#fff" stroke="#2a2a2a" stroke-width="1.3"/><text x="248" y="376.9">4002</text>
<ellipse cx="409.5" cy="340" rx="24" ry="8.8" fill="#fff" stroke="#2a2a2a" stroke-width="1.3"/><text x="409.5" y="344.9">546R</text>
<ellipse cx="675" cy="316" rx="24" ry="8.8" fill="#fff" stroke="#2a2a2a" stroke-width="1.3"/><text x="675" y="320.9">5032</text>
<ellipse cx="677" cy="353" rx="24" ry="8.8" fill="#fff" stroke="#2a2a2a" stroke-width="1.3"/><text x="677" y="357.9">5502</text>
<ellipse cx="580" cy="372.5" rx="24" ry="8.8" fill="#fff" stroke="#2a2a2a" stroke-width="1.3"/><text x="580" y="377.4">5006</text>
<ellipse cx="734" cy="366" rx="24" ry="8.8" fill="#fff" stroke="#2a2a2a" stroke-width="1.3"/><text x="734" y="370.9">5408</text>
<ellipse cx="760" cy="346" rx="24" ry="8.8" fill="#fff" stroke="#2a2a2a" stroke-width="1.3"/><text x="760" y="350.9">5405</text>
<ellipse cx="813" cy="346" rx="25" ry="8.8" fill="#fff" stroke="#2a2a2a" stroke-width="1.3"/><text x="813" y="350.9">W102</text>
<ellipse cx="855.5" cy="330" rx="24" ry="8.8" fill="#fff" stroke="#2a2a2a" stroke-width="1.3"/><text x="855.5" y="334.9">5039</text>
<ellipse cx="879.5" cy="353.5" rx="25" ry="8.8" fill="#fff" stroke="#2a2a2a" stroke-width="1.3"/><text x="879.5" y="358.4">W129</text>
<ellipse cx="905.5" cy="389.5" rx="24" ry="8.8" fill="#fff" stroke="#2a2a2a" stroke-width="1.3"/><text x="905.5" y="394.4">5020</text>
<ellipse cx="932.5" cy="432" rx="24" ry="8.8" fill="#fff" stroke="#2a2a2a" stroke-width="1.3"/><text x="932.5" y="436.9">507S</text>
<ellipse cx="880.5" cy="442" rx="24" ry="8.8" fill="#fff" stroke="#2a2a2a" stroke-width="1.3"/><text x="880.5" y="446.9">5611</text>
<ellipse cx="759" cy="428.5" rx="24" ry="8.8" fill="#fff" stroke="#2a2a2a" stroke-width="1.3"/><text x="759" y="433.4">5611</text>
<ellipse cx="852" cy="461.5" rx="24" ry="8.8" fill="#fff" stroke="#2a2a2a" stroke-width="1.3"/><text x="852" y="466.4">507R</text>
<ellipse cx="850.5" cy="487" rx="25" ry="8.8" fill="#fff" stroke="#2a2a2a" stroke-width="1.3"/><text x="850.5" y="491.9">W140</text>
<ellipse cx="902.5" cy="497" rx="25" ry="8.8" fill="#fff" stroke="#2a2a2a" stroke-width="1.3"/><text x="902.5" y="501.9">W287</text>
<ellipse cx="870.5" cy="525" rx="24" ry="8.8" fill="#fff" stroke="#2a2a2a" stroke-width="1.3"/><text x="870.5" y="529.9">5508</text>
<ellipse cx="859" cy="552.5" rx="24" ry="8.8" fill="#fff" stroke="#2a2a2a" stroke-width="1.3"/><text x="859" y="557.4">3057</text>
<ellipse cx="885.5" cy="627" rx="24" ry="8.8" fill="#fff" stroke="#2a2a2a" stroke-width="1.3"/><text x="885.5" y="631.9">5510</text>
<ellipse cx="752" cy="567.5" rx="24" ry="8.8" fill="#fff" stroke="#2a2a2a" stroke-width="1.3"/><text x="752" y="572.4">5518</text>
<ellipse cx="654.5" cy="587.5" rx="24" ry="8.8" fill="#fff" stroke="#2a2a2a" stroke-width="1.3"/><text x="654.5" y="592.4">5509</text>
<ellipse cx="593" cy="609" rx="24" ry="8.8" fill="#fff" stroke="#2a2a2a" stroke-width="1.3"/><text x="593" y="613.9">5512</text>
<ellipse cx="497" cy="414" rx="24" ry="8.8" fill="#fff" stroke="#2a2a2a" stroke-width="1.3"/><text x="497" y="418.9">3208</text>
<ellipse cx="521" cy="444" rx="24" ry="8.8" fill="#fff" stroke="#2a2a2a" stroke-width="1.3"/><text x="521" y="448.9">5535</text>
<ellipse cx="176" cy="459" rx="25" ry="8.8" fill="#fff" stroke="#2a2a2a" stroke-width="1.3"/><text x="176" y="463.9">W124</text>
<ellipse cx="151" cy="481" rx="25" ry="8.8" fill="#fff" stroke="#2a2a2a" stroke-width="1.3"/><text x="151" y="485.9">W233</text>
<ellipse cx="230" cy="471" rx="24" ry="8.8" fill="#fff" stroke="#2a2a2a" stroke-width="1.3"/><text x="230" y="475.9">5407</text>
<ellipse cx="125.5" cy="502" rx="24" ry="8.8" fill="#fff" stroke="#2a2a2a" stroke-width="1.3"/><text x="125.5" y="506.9">5521</text>
<ellipse cx="78" cy="514.5" rx="25" ry="8.8" fill="#fff" stroke="#2a2a2a" stroke-width="1.3"/><text x="78" y="519.4">W291</text>
<ellipse cx="350" cy="542" rx="24" ry="8.8" fill="#fff" stroke="#2a2a2a" stroke-width="1.3"/><text x="350" y="546.9">5532</text>
<ellipse cx="347" cy="566" rx="24" ry="8.8" fill="#fff" stroke="#2a2a2a" stroke-width="1.3"/><text x="347" y="570.9">5516</text>
<ellipse cx="275.5" cy="586" rx="24" ry="8.8" fill="#fff" stroke="#2a2a2a" stroke-width="1.3"/><text x="275.5" y="590.9">5406</text>
<ellipse cx="217" cy="608" rx="25" ry="8.8" fill="#fff" stroke="#2a2a2a" stroke-width="1.3"/><text x="217" y="612.9">W232</text>
<ellipse cx="355" cy="603" rx="24" ry="8.8" fill="#fff" stroke="#2a2a2a" stroke-width="1.3"/><text x="355" y="607.9">5021</text>
<ellipse cx="361" cy="632.5" rx="24" ry="8.8" fill="#fff" stroke="#2a2a2a" stroke-width="1.3"/><text x="361" y="637.4">5533</text>
<ellipse cx="117" cy="662.5" rx="24" ry="8.8" fill="#fff" stroke="#2a2a2a" stroke-width="1.3"/><text x="117" y="667.4">3222</text>
<ellipse cx="158" cy="690" rx="24" ry="8.8" fill="#fff" stroke="#2a2a2a" stroke-width="1.3"/><text x="158" y="694.9">5556</text>
<ellipse cx="128" cy="747.5" rx="24" ry="8.8" fill="#fff" stroke="#2a2a2a" stroke-width="1.3"/><text x="128" y="752.4">5014</text>
<ellipse cx="325" cy="930.5" rx="24" ry="8.8" fill="#fff" stroke="#2a2a2a" stroke-width="1.3"/><text x="325" y="935.4">5066</text>
<ellipse cx="477" cy="820.5" rx="24" ry="8.8" fill="#fff" stroke="#2a2a2a" stroke-width="1.3"/><text x="477" y="825.4">5506</text>
<ellipse cx="558" cy="788.5" rx="24" ry="8.8" fill="#fff" stroke="#2a2a2a" stroke-width="1.3"/><text x="558" y="793.4">5513</text>
<ellipse cx="631.5" cy="765" rx="25" ry="8.8" fill="#fff" stroke="#2a2a2a" stroke-width="1.3"/><text x="631.5" y="769.9">W229</text>
<ellipse cx="695.5" cy="849.5" rx="24" ry="8.8" fill="#fff" stroke="#2a2a2a" stroke-width="1.3"/><text x="695.5" y="854.4">8511</text>
<ellipse cx="816" cy="851.5" rx="24" ry="8.8" fill="#fff" stroke="#2a2a2a" stroke-width="1.3"/><text x="816" y="856.4">5019</text>
</g>
</svg>
</body></html>
